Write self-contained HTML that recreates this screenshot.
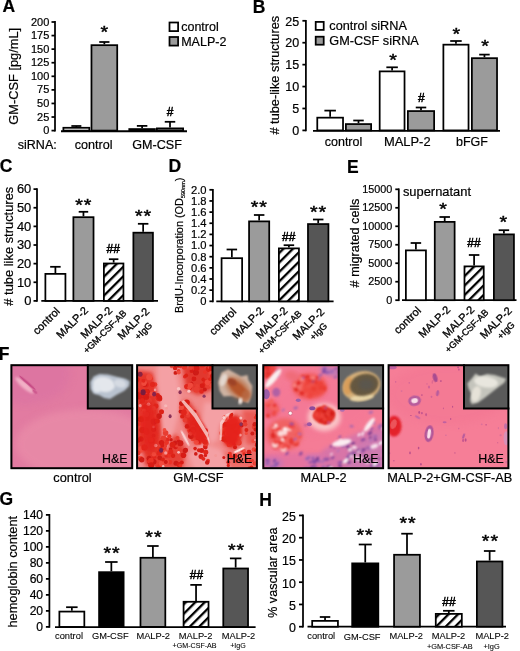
<!DOCTYPE html>
<html lang="en"><head><meta charset="utf-8"><title>Figure</title>
<style>html,body{margin:0;padding:0;background:#fff;overflow:hidden}svg{display:block}text{font-family:'Liberation Sans', Arial, sans-serif;fill:#000;stroke:#000;stroke-width:.2px}.st{stroke-width:.5px}.sm{stroke-width:.08px}.rl{stroke-width:.32px}</style>
</head><body>
<svg width="520" height="651" viewBox="0 0 520 651">
<defs>
<pattern id="hatch" width="6.7" height="6.7" patternUnits="userSpaceOnUse" patternTransform="rotate(-45)">
<rect width="6.7" height="6.7" fill="#fff"/><rect y="0" width="6.7" height="2.3" fill="#000"/>
</pattern>
<filter id="b2" x="-20%" y="-20%" width="140%" height="140%"><feGaussianBlur stdDeviation="2"/></filter>
<filter id="b05" x="-20%" y="-20%" width="140%" height="140%"><feGaussianBlur stdDeviation="0.6"/></filter>
<filter id="b08" x="-20%" y="-20%" width="140%" height="140%"><feGaussianBlur stdDeviation="0.9"/></filter>
<filter id="b1" x="-20%" y="-20%" width="140%" height="140%"><feGaussianBlur stdDeviation="1"/></filter>
<filter id="b3" x="-20%" y="-20%" width="140%" height="140%"><feGaussianBlur stdDeviation="3.5"/></filter>
</defs>
<rect width="520" height="651" fill="#fff"/>
<text x="2.45" y="12.30" font-size="17.5" text-anchor="start" font-weight="bold" >A</text>
<text x="252.80" y="12.50" font-size="17.5" text-anchor="start" font-weight="bold" >B</text>
<text x="-0.25" y="172.10" font-size="17.5" text-anchor="start" font-weight="bold" >C</text>
<text x="168.50" y="172.35" font-size="17.5" text-anchor="start" font-weight="bold" >D</text>
<text x="347.10" y="173.00" font-size="17.5" text-anchor="start" font-weight="bold" >E</text>
<text x="-1.20" y="359.70" font-size="17.5" text-anchor="start" font-weight="bold" >F</text>
<text x="-0.60" y="504.70" font-size="17.5" text-anchor="start" font-weight="bold" >G</text>
<text x="259.30" y="506.00" font-size="17.5" text-anchor="start" font-weight="bold" >H</text>
<line x1="55.00" y1="21.12" x2="55.00" y2="131.47" stroke="#000" stroke-width="1.75"/>
<line x1="51.50" y1="130.60" x2="55.00" y2="130.60" stroke="#000" stroke-width="1.75"/>
<text x="49.30" y="134.16" font-size="11.0" text-anchor="end" font-weight="normal" >0</text>
<line x1="51.50" y1="117.02" x2="55.00" y2="117.02" stroke="#000" stroke-width="1.75"/>
<text x="49.30" y="120.58" font-size="11.0" text-anchor="end" font-weight="normal" >25</text>
<line x1="51.50" y1="103.45" x2="55.00" y2="103.45" stroke="#000" stroke-width="1.75"/>
<text x="49.30" y="107.01" font-size="11.0" text-anchor="end" font-weight="normal" >50</text>
<line x1="51.50" y1="89.88" x2="55.00" y2="89.88" stroke="#000" stroke-width="1.75"/>
<text x="49.30" y="93.43" font-size="11.0" text-anchor="end" font-weight="normal" >75</text>
<line x1="51.50" y1="76.30" x2="55.00" y2="76.30" stroke="#000" stroke-width="1.75"/>
<text x="49.30" y="79.86" font-size="11.0" text-anchor="end" font-weight="normal" >100</text>
<line x1="51.50" y1="62.72" x2="55.00" y2="62.72" stroke="#000" stroke-width="1.75"/>
<text x="49.30" y="66.28" font-size="11.0" text-anchor="end" font-weight="normal" >125</text>
<line x1="51.50" y1="49.15" x2="55.00" y2="49.15" stroke="#000" stroke-width="1.75"/>
<text x="49.30" y="52.71" font-size="11.0" text-anchor="end" font-weight="normal" >150</text>
<line x1="51.50" y1="35.58" x2="55.00" y2="35.58" stroke="#000" stroke-width="1.75"/>
<text x="49.30" y="39.14" font-size="11.0" text-anchor="end" font-weight="normal" >175</text>
<line x1="51.50" y1="22.00" x2="55.00" y2="22.00" stroke="#000" stroke-width="1.75"/>
<text x="49.30" y="25.56" font-size="11.0" text-anchor="end" font-weight="normal" >200</text>
<line x1="61.00" y1="131.30" x2="187.00" y2="131.30" stroke="#000" stroke-width="1.9"/>
<line x1="76.35" y1="126.00" x2="76.35" y2="126.90" stroke="#000" stroke-width="1.75"/>
<line x1="71.35" y1="126.00" x2="81.35" y2="126.00" stroke="#000" stroke-width="1.75"/>
<rect x="63.38" y="127.78" width="25.95" height="2.82" fill="#fff" stroke="#000" stroke-width="1.75"/>
<line x1="104.35" y1="42.00" x2="104.35" y2="44.30" stroke="#000" stroke-width="1.75"/>
<line x1="99.25" y1="42.00" x2="109.45" y2="42.00" stroke="#000" stroke-width="1.75"/>
<rect x="91.47" y="45.17" width="25.75" height="85.42" fill="#9b9b9b" stroke="#000" stroke-width="1.75"/>
<line x1="142.10" y1="125.90" x2="142.10" y2="128.20" stroke="#000" stroke-width="1.75"/>
<line x1="136.85" y1="125.90" x2="147.35" y2="125.90" stroke="#000" stroke-width="1.75"/>
<rect x="129.28" y="129.07" width="25.65" height="1.53" fill="#fff" stroke="#000" stroke-width="1.75"/>
<line x1="170.00" y1="121.80" x2="170.00" y2="127.50" stroke="#000" stroke-width="1.75"/>
<line x1="164.75" y1="121.80" x2="175.25" y2="121.80" stroke="#000" stroke-width="1.75"/>
<rect x="156.88" y="128.38" width="26.25" height="2.22" fill="#9b9b9b" stroke="#000" stroke-width="1.75"/>
<text transform="translate(104.40,38.30) scale(1.03,0.86)" font-size="19" text-anchor="middle" class="st">*</text>
<text x="170.00" y="115.50" font-size="12" text-anchor="middle" font-weight="normal"  class="st">#</text>
<text transform="translate(18.40,76.30) rotate(-90)" font-size="12.8" text-anchor="middle" >GM-CSF [pg/mL]</text>
<text x="17.80" y="148.60" font-size="12.5" text-anchor="start" font-weight="normal" >siRNA:</text>
<text x="93.70" y="148.60" font-size="12.6" text-anchor="middle" font-weight="normal" >control</text>
<text x="157.00" y="148.60" font-size="12.6" text-anchor="middle" font-weight="normal" >GM-CSF</text>
<rect x="169.5" y="22.5" width="8.6" height="8.6" fill="#fff" stroke="#000" stroke-width="1.75"/>
<rect x="169.5" y="37" width="8.6" height="8.6" fill="#9b9b9b" stroke="#000" stroke-width="1.75"/>
<text x="181.20" y="31.00" font-size="12.5" text-anchor="start" font-weight="normal" >control</text>
<text x="181.20" y="45.70" font-size="12.5" text-anchor="start" font-weight="normal" >MALP-2</text>
<line x1="305.90" y1="19.92" x2="305.90" y2="131.28" stroke="#000" stroke-width="1.75"/>
<line x1="302.40" y1="130.40" x2="305.90" y2="130.40" stroke="#000" stroke-width="1.75"/>
<text x="299.20" y="135.10" font-size="12.5" text-anchor="end" font-weight="normal" >0</text>
<line x1="302.40" y1="108.48" x2="305.90" y2="108.48" stroke="#000" stroke-width="1.75"/>
<text x="299.20" y="113.18" font-size="12.5" text-anchor="end" font-weight="normal" >5</text>
<line x1="302.40" y1="86.56" x2="305.90" y2="86.56" stroke="#000" stroke-width="1.75"/>
<text x="299.20" y="91.26" font-size="12.5" text-anchor="end" font-weight="normal" >10</text>
<line x1="302.40" y1="64.64" x2="305.90" y2="64.64" stroke="#000" stroke-width="1.75"/>
<text x="299.20" y="69.34" font-size="12.5" text-anchor="end" font-weight="normal" >15</text>
<line x1="302.40" y1="42.72" x2="305.90" y2="42.72" stroke="#000" stroke-width="1.75"/>
<text x="299.20" y="47.42" font-size="12.5" text-anchor="end" font-weight="normal" >20</text>
<line x1="302.40" y1="20.80" x2="305.90" y2="20.80" stroke="#000" stroke-width="1.75"/>
<text x="299.20" y="25.50" font-size="12.5" text-anchor="end" font-weight="normal" >25</text>
<line x1="313.00" y1="130.80" x2="500.00" y2="130.80" stroke="#000" stroke-width="1.75"/>
<line x1="330.15" y1="110.60" x2="330.15" y2="116.80" stroke="#000" stroke-width="1.75"/>
<line x1="324.40" y1="110.60" x2="335.90" y2="110.60" stroke="#000" stroke-width="1.75"/>
<rect x="317.27" y="117.67" width="25.75" height="12.73" fill="#fff" stroke="#000" stroke-width="1.75"/>
<line x1="358.50" y1="120.50" x2="358.50" y2="123.20" stroke="#000" stroke-width="1.75"/>
<line x1="353.25" y1="120.50" x2="363.75" y2="120.50" stroke="#000" stroke-width="1.75"/>
<rect x="345.88" y="124.08" width="25.25" height="6.33" fill="#9b9b9b" stroke="#000" stroke-width="1.75"/>
<line x1="392.10" y1="67.30" x2="392.10" y2="70.50" stroke="#000" stroke-width="1.75"/>
<line x1="386.35" y1="67.30" x2="397.85" y2="67.30" stroke="#000" stroke-width="1.75"/>
<rect x="379.68" y="71.38" width="24.85" height="59.03" fill="#fff" stroke="#000" stroke-width="1.75"/>
<line x1="421.00" y1="107.50" x2="421.00" y2="110.20" stroke="#000" stroke-width="1.75"/>
<line x1="415.75" y1="107.50" x2="426.25" y2="107.50" stroke="#000" stroke-width="1.75"/>
<rect x="407.88" y="111.08" width="26.25" height="19.33" fill="#9b9b9b" stroke="#000" stroke-width="1.75"/>
<line x1="455.95" y1="41.00" x2="455.95" y2="43.80" stroke="#000" stroke-width="1.75"/>
<line x1="450.20" y1="41.00" x2="461.70" y2="41.00" stroke="#000" stroke-width="1.75"/>
<rect x="443.38" y="44.67" width="25.15" height="85.73" fill="#fff" stroke="#000" stroke-width="1.75"/>
<line x1="484.45" y1="54.60" x2="484.45" y2="57.30" stroke="#000" stroke-width="1.75"/>
<line x1="479.20" y1="54.60" x2="489.70" y2="54.60" stroke="#000" stroke-width="1.75"/>
<rect x="471.88" y="58.17" width="25.15" height="72.23" fill="#9b9b9b" stroke="#000" stroke-width="1.75"/>
<text transform="translate(393.00,65.80) scale(1.03,0.86)" font-size="19" text-anchor="middle" class="st">*</text>
<text x="421.40" y="102.30" font-size="12" text-anchor="middle" font-weight="normal"  class="st">#</text>
<text transform="translate(456.40,39.80) scale(1.03,0.86)" font-size="19" text-anchor="middle" class="st">*</text>
<text transform="translate(485.10,52.10) scale(1.03,0.86)" font-size="19" text-anchor="middle" class="st">*</text>
<text transform="translate(278.50,75.20) rotate(-90)" font-size="12.8" text-anchor="middle" ># tube-like structures</text>
<text x="343.50" y="145.70" font-size="12.5" text-anchor="middle" font-weight="normal" >control</text>
<text x="407.30" y="145.80" font-size="12.9" text-anchor="middle" font-weight="normal" >MALP-2</text>
<text x="472.00" y="145.70" font-size="12.5" text-anchor="middle" font-weight="normal" >bFGF</text>
<rect x="315.7" y="21.9" width="8" height="8" fill="#fff" stroke="#000" stroke-width="1.75"/>
<rect x="315.7" y="36.7" width="8" height="8" fill="#9b9b9b" stroke="#000" stroke-width="1.75"/>
<text x="329.30" y="30.00" font-size="12.7" text-anchor="start" font-weight="normal" >control siRNA</text>
<text x="329.30" y="45.30" font-size="12.7" text-anchor="start" font-weight="normal" >GM-CSF siRNA</text>
<line x1="37.00" y1="188.24" x2="37.00" y2="301.77" stroke="#000" stroke-width="1.75"/>
<line x1="33.50" y1="300.90" x2="37.00" y2="300.90" stroke="#000" stroke-width="1.75"/>
<text x="31.30" y="305.14" font-size="12.9" text-anchor="end" font-weight="normal" >0</text>
<line x1="33.50" y1="282.27" x2="37.00" y2="282.27" stroke="#000" stroke-width="1.75"/>
<text x="31.30" y="286.51" font-size="12.9" text-anchor="end" font-weight="normal" >10</text>
<line x1="33.50" y1="263.64" x2="37.00" y2="263.64" stroke="#000" stroke-width="1.75"/>
<text x="31.30" y="267.88" font-size="12.9" text-anchor="end" font-weight="normal" >20</text>
<line x1="33.50" y1="245.01" x2="37.00" y2="245.01" stroke="#000" stroke-width="1.75"/>
<text x="31.30" y="249.25" font-size="12.9" text-anchor="end" font-weight="normal" >30</text>
<line x1="33.50" y1="226.38" x2="37.00" y2="226.38" stroke="#000" stroke-width="1.75"/>
<text x="31.30" y="230.62" font-size="12.9" text-anchor="end" font-weight="normal" >40</text>
<line x1="33.50" y1="207.75" x2="37.00" y2="207.75" stroke="#000" stroke-width="1.75"/>
<text x="31.30" y="211.99" font-size="12.9" text-anchor="end" font-weight="normal" >50</text>
<line x1="33.50" y1="189.12" x2="37.00" y2="189.12" stroke="#000" stroke-width="1.75"/>
<text x="31.30" y="193.36" font-size="12.9" text-anchor="end" font-weight="normal" >60</text>
<line x1="41.30" y1="300.90" x2="158.00" y2="300.90" stroke="#000" stroke-width="1.75"/>
<line x1="55.40" y1="266.80" x2="55.40" y2="273.00" stroke="#000" stroke-width="1.75"/>
<line x1="50.15" y1="266.80" x2="60.65" y2="266.80" stroke="#000" stroke-width="1.75"/>
<rect x="45.38" y="273.88" width="20.05" height="27.02" fill="#fff" stroke="#000" stroke-width="1.75"/>
<line x1="83.45" y1="211.80" x2="83.45" y2="216.30" stroke="#000" stroke-width="1.75"/>
<line x1="78.70" y1="211.80" x2="88.20" y2="211.80" stroke="#000" stroke-width="1.75"/>
<rect x="73.38" y="217.18" width="20.15" height="83.72" fill="#9b9b9b" stroke="#000" stroke-width="1.75"/>
<line x1="113.65" y1="259.20" x2="113.65" y2="262.60" stroke="#000" stroke-width="1.75"/>
<line x1="108.90" y1="259.20" x2="118.40" y2="259.20" stroke="#000" stroke-width="1.75"/>
<rect x="103.88" y="263.48" width="19.55" height="37.42" fill="url(#hatch)" stroke="#000" stroke-width="1.75"/>
<line x1="143.15" y1="223.80" x2="143.15" y2="231.80" stroke="#000" stroke-width="1.75"/>
<line x1="137.90" y1="223.80" x2="148.40" y2="223.80" stroke="#000" stroke-width="1.75"/>
<rect x="133.38" y="232.68" width="19.55" height="68.22" fill="#565656" stroke="#000" stroke-width="1.75"/>
<text transform="translate(83.70,211.30) scale(1.03,0.86)" font-size="19" text-anchor="middle" class="st" letter-spacing="0.9">**</text>
<text x="113.30" y="252.70" font-size="12" text-anchor="middle" font-weight="normal"  class="st">##</text>
<text transform="translate(143.50,221.80) scale(1.03,0.86)" font-size="19" text-anchor="middle" class="st" letter-spacing="0.9">**</text>
<text transform="translate(12.60,246.20) rotate(-90)" font-size="12.9" text-anchor="middle" ># tube like structures</text>
<text transform="translate(48.90,323.60) rotate(-45)" font-size="11.0" text-anchor="middle" class="rl">control</text>
<text transform="translate(74.80,325.10) rotate(-45)" font-size="11.0" text-anchor="middle" class="rl">MALP-2</text>
<text transform="translate(99.10,325.10) rotate(-45)" text-anchor="middle" class="rl"><tspan x="0" y="0" font-size="11.0">MALP-2</tspan><tspan x="-0.6" y="11.8" font-size="9.2">+GM-CSF-AB</tspan></text>
<text transform="translate(136.00,326.20) rotate(-45)" text-anchor="middle" class="rl"><tspan x="0" y="0" font-size="11.0">MALP-2</tspan><tspan x="1.9" y="11.8" font-size="9.2">+IgG</tspan></text>
<line x1="212.90" y1="188.93" x2="212.90" y2="302.18" stroke="#000" stroke-width="1.75"/>
<line x1="209.40" y1="301.30" x2="212.90" y2="301.30" stroke="#000" stroke-width="1.75"/>
<text x="206.50" y="305.23" font-size="11.2" text-anchor="end" font-weight="normal" >0</text>
<line x1="209.40" y1="290.15" x2="212.90" y2="290.15" stroke="#000" stroke-width="1.75"/>
<text x="206.50" y="294.08" font-size="11.2" text-anchor="end" font-weight="normal" >0.2</text>
<line x1="209.40" y1="279.00" x2="212.90" y2="279.00" stroke="#000" stroke-width="1.75"/>
<text x="206.50" y="282.93" font-size="11.2" text-anchor="end" font-weight="normal" >0.4</text>
<line x1="209.40" y1="267.85" x2="212.90" y2="267.85" stroke="#000" stroke-width="1.75"/>
<text x="206.50" y="271.78" font-size="11.2" text-anchor="end" font-weight="normal" >0.6</text>
<line x1="209.40" y1="256.70" x2="212.90" y2="256.70" stroke="#000" stroke-width="1.75"/>
<text x="206.50" y="260.63" font-size="11.2" text-anchor="end" font-weight="normal" >0.8</text>
<line x1="209.40" y1="245.55" x2="212.90" y2="245.55" stroke="#000" stroke-width="1.75"/>
<text x="206.50" y="249.48" font-size="11.2" text-anchor="end" font-weight="normal" >1.0</text>
<line x1="209.40" y1="234.40" x2="212.90" y2="234.40" stroke="#000" stroke-width="1.75"/>
<text x="206.50" y="238.33" font-size="11.2" text-anchor="end" font-weight="normal" >1.2</text>
<line x1="209.40" y1="223.25" x2="212.90" y2="223.25" stroke="#000" stroke-width="1.75"/>
<text x="206.50" y="227.18" font-size="11.2" text-anchor="end" font-weight="normal" >1.4</text>
<line x1="209.40" y1="212.10" x2="212.90" y2="212.10" stroke="#000" stroke-width="1.75"/>
<text x="206.50" y="216.03" font-size="11.2" text-anchor="end" font-weight="normal" >1.6</text>
<line x1="209.40" y1="200.95" x2="212.90" y2="200.95" stroke="#000" stroke-width="1.75"/>
<text x="206.50" y="204.88" font-size="11.2" text-anchor="end" font-weight="normal" >1.8</text>
<line x1="209.40" y1="189.80" x2="212.90" y2="189.80" stroke="#000" stroke-width="1.75"/>
<text x="206.50" y="193.73" font-size="11.2" text-anchor="end" font-weight="normal" >2.0</text>
<line x1="216.30" y1="301.30" x2="333.60" y2="301.30" stroke="#000" stroke-width="1.75"/>
<line x1="231.85" y1="249.50" x2="231.85" y2="257.30" stroke="#000" stroke-width="1.75"/>
<line x1="226.60" y1="249.50" x2="237.10" y2="249.50" stroke="#000" stroke-width="1.75"/>
<rect x="221.57" y="258.18" width="20.55" height="43.12" fill="#fff" stroke="#000" stroke-width="1.75"/>
<line x1="259.15" y1="215.00" x2="259.15" y2="220.50" stroke="#000" stroke-width="1.75"/>
<line x1="253.90" y1="215.00" x2="264.40" y2="215.00" stroke="#000" stroke-width="1.75"/>
<rect x="249.07" y="221.38" width="20.15" height="79.93" fill="#9b9b9b" stroke="#000" stroke-width="1.75"/>
<line x1="288.90" y1="245.20" x2="288.90" y2="247.50" stroke="#000" stroke-width="1.75"/>
<line x1="283.65" y1="245.20" x2="294.15" y2="245.20" stroke="#000" stroke-width="1.75"/>
<rect x="278.88" y="248.38" width="20.05" height="52.93" fill="url(#hatch)" stroke="#000" stroke-width="1.75"/>
<line x1="318.20" y1="219.50" x2="318.20" y2="223.20" stroke="#000" stroke-width="1.75"/>
<line x1="312.95" y1="219.50" x2="323.45" y2="219.50" stroke="#000" stroke-width="1.75"/>
<rect x="307.98" y="224.07" width="20.45" height="77.23" fill="#565656" stroke="#000" stroke-width="1.75"/>
<text transform="translate(259.20,213.30) scale(1.03,0.86)" font-size="19" text-anchor="middle" class="st" letter-spacing="0.9">**</text>
<text x="288.80" y="241.00" font-size="12" text-anchor="middle" font-weight="normal"  class="st">##</text>
<text transform="translate(318.50,218.30) scale(1.03,0.86)" font-size="19" text-anchor="middle" class="st" letter-spacing="0.9">**</text>
<text transform="translate(183.4,245.3) rotate(-90)" text-anchor="middle" font-size="10.9">BrdU-Incorporation (OD<tspan font-size="5.5" dy="2">590nm</tspan><tspan dy="-2">)</tspan></text>
<text transform="translate(225.40,324.00) rotate(-45)" font-size="11.0" text-anchor="middle" class="rl">control</text>
<text transform="translate(250.50,325.50) rotate(-45)" font-size="11.0" text-anchor="middle" class="rl">MALP-2</text>
<text transform="translate(274.30,325.50) rotate(-45)" text-anchor="middle" class="rl"><tspan x="0" y="0" font-size="11.0">MALP-2</tspan><tspan x="-0.6" y="11.8" font-size="9.2">+GM-CSF-AB</tspan></text>
<text transform="translate(311.00,326.60) rotate(-45)" text-anchor="middle" class="rl"><tspan x="0" y="0" font-size="11.0">MALP-2</tspan><tspan x="1.9" y="11.8" font-size="9.2">+IgG</tspan></text>
<line x1="398.80" y1="188.44" x2="398.80" y2="301.07" stroke="#000" stroke-width="1.75"/>
<line x1="395.30" y1="300.20" x2="398.80" y2="300.20" stroke="#000" stroke-width="1.75"/>
<text x="392.30" y="303.89" font-size="10.8" text-anchor="end" font-weight="normal" >0</text>
<line x1="395.30" y1="281.72" x2="398.80" y2="281.72" stroke="#000" stroke-width="1.75"/>
<text x="392.30" y="285.41" font-size="10.8" text-anchor="end" font-weight="normal" >2500</text>
<line x1="395.30" y1="263.24" x2="398.80" y2="263.24" stroke="#000" stroke-width="1.75"/>
<text x="392.30" y="266.93" font-size="10.8" text-anchor="end" font-weight="normal" >5000</text>
<line x1="395.30" y1="244.76" x2="398.80" y2="244.76" stroke="#000" stroke-width="1.75"/>
<text x="392.30" y="248.45" font-size="10.8" text-anchor="end" font-weight="normal" >7500</text>
<line x1="395.30" y1="226.28" x2="398.80" y2="226.28" stroke="#000" stroke-width="1.75"/>
<text x="392.30" y="229.97" font-size="10.8" text-anchor="end" font-weight="normal" >10000</text>
<line x1="395.30" y1="207.80" x2="398.80" y2="207.80" stroke="#000" stroke-width="1.75"/>
<text x="392.30" y="211.49" font-size="10.8" text-anchor="end" font-weight="normal" >12500</text>
<line x1="395.30" y1="189.32" x2="398.80" y2="189.32" stroke="#000" stroke-width="1.75"/>
<text x="392.30" y="193.01" font-size="10.8" text-anchor="end" font-weight="normal" >15000</text>
<line x1="402.00" y1="300.20" x2="516.50" y2="300.20" stroke="#000" stroke-width="1.75"/>
<line x1="415.90" y1="243.00" x2="415.90" y2="249.50" stroke="#000" stroke-width="1.75"/>
<line x1="410.65" y1="243.00" x2="421.15" y2="243.00" stroke="#000" stroke-width="1.75"/>
<rect x="405.88" y="250.38" width="20.05" height="49.82" fill="#fff" stroke="#000" stroke-width="1.75"/>
<line x1="444.70" y1="217.00" x2="444.70" y2="221.00" stroke="#000" stroke-width="1.75"/>
<line x1="439.45" y1="217.00" x2="449.95" y2="217.00" stroke="#000" stroke-width="1.75"/>
<rect x="434.77" y="221.88" width="19.85" height="78.32" fill="#9b9b9b" stroke="#000" stroke-width="1.75"/>
<line x1="474.10" y1="255.00" x2="474.10" y2="265.50" stroke="#000" stroke-width="1.75"/>
<line x1="468.85" y1="255.00" x2="479.35" y2="255.00" stroke="#000" stroke-width="1.75"/>
<rect x="464.48" y="266.38" width="19.25" height="33.82" fill="url(#hatch)" stroke="#000" stroke-width="1.75"/>
<line x1="503.90" y1="230.20" x2="503.90" y2="233.50" stroke="#000" stroke-width="1.75"/>
<line x1="498.65" y1="230.20" x2="509.15" y2="230.20" stroke="#000" stroke-width="1.75"/>
<rect x="493.88" y="234.38" width="20.05" height="65.82" fill="#565656" stroke="#000" stroke-width="1.75"/>
<text transform="translate(443.00,215.00) scale(1.03,0.86)" font-size="19" text-anchor="middle" class="st">*</text>
<text x="474.00" y="246.50" font-size="12" text-anchor="middle" font-weight="normal"  class="st">##</text>
<text transform="translate(503.30,227.60) scale(1.03,0.86)" font-size="19" text-anchor="middle" class="st">*</text>
<text x="402.90" y="195.70" font-size="12.9" text-anchor="start" font-weight="normal" >supernatant</text>
<text transform="translate(358.60,243.00) rotate(-90)" font-size="12.7" text-anchor="middle" ># migrated cells</text>
<text transform="translate(410.00,322.90) rotate(-45)" font-size="11.0" text-anchor="middle" class="rl">control</text>
<text transform="translate(437.00,324.40) rotate(-45)" font-size="11.0" text-anchor="middle" class="rl">MALP-2</text>
<text transform="translate(461.00,324.40) rotate(-45)" text-anchor="middle" class="rl"><tspan x="0" y="0" font-size="11.0">MALP-2</tspan><tspan x="-0.6" y="11.8" font-size="9.2">+GM-CSF-AB</tspan></text>
<text transform="translate(498.50,325.50) rotate(-45)" text-anchor="middle" class="rl"><tspan x="0" y="0" font-size="11.0">MALP-2</tspan><tspan x="1.9" y="11.8" font-size="9.2">+IgG</tspan></text>
<clipPath id="c1"><rect x="11.4" y="365.2" width="120.79999999999998" height="103.0"/></clipPath>
<clipPath id="c1i"><rect x="87.79999999999998" y="365.2" width="44.4" height="43.19999999999999"/></clipPath>
<rect x="10.9" y="364.7" width="121.79999999999998" height="104.0" fill="#e27ba1"/>
<g clip-path="url(#c1)"><g transform="translate(10.4,364.2)">
<ellipse cx="15.0" cy="10.0" rx="45" ry="30" fill="#dc74a2" filter="url(#b3)" opacity="0.8"/>
<ellipse cx="75.0" cy="80.0" rx="70" ry="35" fill="#e98ca8" filter="url(#b3)" opacity="0.8"/>
<ellipse cx="14.0" cy="21.0" rx="12" ry="3.0" fill="#f2b0c6" filter="url(#b1)" transform="rotate(41 14.0 21.0)"/>
<ellipse cx="17.0" cy="18.6" rx="11" ry="1.2" fill="#c03c7c" filter="url(#b05)" opacity="0.85" transform="rotate(41 17.0 18.6)"/>
<ellipse cx="24.5" cy="27.5" rx="3" ry="1.2" fill="#c85088" filter="url(#b05)" opacity="0.8" transform="rotate(41 24.5 27.5)"/>
</g></g>
<rect x="87.79999999999998" y="365.2" width="44.4" height="43.19999999999999" fill="#585858"/>
<g clip-path="url(#c1i)">
<polygon points="90.2,382.2 93.6,376.4 99.4,374.0 108.0,374.5 115.7,376.4 125.3,378.8 129.7,381.2 129.2,386.0 124.4,390.8 116.7,394.7 110.0,399.0 104.2,398.0 99.4,395.2 93.6,393.7 90.7,388.9" fill="#b9c2cf" filter="url(#b1)"/>
<ellipse cx="104.0" cy="384.5" rx="11" ry="7.5" fill="#e4e7ec" filter="url(#b1)" transform="rotate(10 104 384.5)"/>
<ellipse cx="120.0" cy="383.5" rx="6.5" ry="4" fill="#d5dae2" filter="url(#b1)" transform="rotate(15 120 383.5)"/>
<ellipse cx="97.0" cy="388.0" rx="4" ry="4.5" fill="#e2e6ec" filter="url(#b1)"/>
</g>
<path d="M87.79999999999998,364.2 V408.4 H133.2" fill="none" stroke="#000" stroke-width="2.0"/>
<rect x="11.4" y="365.2" width="120.79999999999998" height="103.0" fill="none" stroke="#000" stroke-width="2.0"/>
<text x="127.60" y="462.70" font-size="12.4" text-anchor="end" font-weight="normal" fill="#1a0a10">H&amp;E</text>
<text x="72.50" y="482.40" font-size="12.75" text-anchor="middle" font-weight="normal" >control</text>
<clipPath id="c2"><rect x="137.1" y="365.2" width="119.79999999999998" height="103.0"/></clipPath>
<clipPath id="c2i"><rect x="212.49999999999997" y="365.2" width="44.4" height="43.19999999999999"/></clipPath>
<rect x="136.6" y="364.7" width="120.79999999999998" height="104.0" fill="#f08a8a"/>
<g clip-path="url(#c2)"><g transform="translate(136.1,364.2)">
<polygon points="0.0,6.0 16.0,8.0 23.0,30.0 28.0,55.0 31.0,75.0 25.0,102.0 2.0,102.0 0.0,80.0" fill="#e4342c" filter="url(#b2)"/>
<polygon points="46.0,3.0 60.0,0.0 77.0,2.0 77.0,25.0 62.0,31.0 50.0,25.0" fill="#e2382e" filter="url(#b2)"/>
<polygon points="42.0,40.0 52.0,36.0 62.0,50.0 72.0,70.0 70.0,83.0 60.0,81.0 50.0,64.0" fill="#e22c24" filter="url(#b2)"/>
<polygon points="88.0,54.0 97.0,49.0 105.0,54.0 107.0,68.0 104.0,80.0 96.0,85.0 88.0,80.0 85.0,68.0" fill="#e2281e" filter="url(#b2)"/>
<polygon points="24.0,72.0 40.0,70.0 50.0,84.0 47.0,104.0 22.0,104.0" fill="#e64238" filter="url(#b2)"/>
<polygon points="58.0,84.0 74.0,86.0 72.0,100.0 60.0,98.0" fill="#e84c44" filter="url(#b2)"/>
<polygon points="106.0,46.0 122.0,46.0 122.0,82.0 110.0,80.0 108.0,62.0" fill="#ea5a54" filter="url(#b2)"/>
<polygon points="84.0,88.0 122.0,84.0 122.0,104.0 92.0,104.0" fill="#ee6a66" filter="url(#b2)"/>
<polygon points="21.0,-3.0 33.0,-3.0 40.0,8.0 43.0,22.0 44.0,38.0 42.0,52.0 37.0,70.0 31.0,86.0 27.0,88.0 25.0,60.0 23.0,36.0 21.0,15.0" fill="#f4a0a4" filter="url(#b2)"/>
<polygon points="68.0,38.0 100.0,40.0 97.0,52.0 84.0,60.0 81.0,76.0 74.0,80.0 66.0,58.0" fill="#f4a0a4" filter="url(#b2)"/>
<polygon points="52.0,90.0 66.0,78.0 86.0,86.0 95.0,107.0 58.0,107.0" fill="#f4a0a4" filter="url(#b2)"/>
<polygon points="-3.0,86.0 7.0,88.0 10.0,107.0 -3.0,107.0" fill="#f29094" filter="url(#b2)"/>
<g filter="url(#b05)">
<circle cx="10.0" cy="20.5" r="2.7" fill="#e2261e"/>
<circle cx="18.1" cy="93.3" r="2.1" fill="#e2261e"/>
<circle cx="13.4" cy="12.7" r="1.9" fill="#e83c30"/>
<circle cx="1.8" cy="60.3" r="3.1" fill="#f04a3c"/>
<circle cx="19.5" cy="97.0" r="2.6" fill="#e83c30"/>
<circle cx="1.5" cy="27.2" r="2.6" fill="#d81c14"/>
<circle cx="9.0" cy="19.8" r="2.0" fill="#ea3228"/>
<circle cx="17.4" cy="71.5" r="1.9" fill="#cf1a16"/>
<circle cx="19.8" cy="41.8" r="2.6" fill="#e2261e"/>
<circle cx="17.5" cy="65.4" r="2.5" fill="#cf1a16"/>
<circle cx="13.3" cy="36.2" r="2.6" fill="#e83c30"/>
<circle cx="11.2" cy="29.8" r="2.1" fill="#dc2018"/>
<circle cx="7.6" cy="61.1" r="2.5" fill="#ea3228"/>
<circle cx="22.6" cy="33.6" r="3.2" fill="#e2261e"/>
<circle cx="15.9" cy="21.8" r="2.3" fill="#e83c30"/>
<circle cx="13.1" cy="98.4" r="1.9" fill="#cf1a16"/>
<circle cx="17.8" cy="90.0" r="2.2" fill="#f04a3c"/>
<circle cx="10.9" cy="53.7" r="2.9" fill="#e2261e"/>
<circle cx="26.0" cy="96.7" r="2.5" fill="#f04a3c"/>
<circle cx="2.0" cy="76.2" r="2.2" fill="#cf1a16"/>
<circle cx="8.8" cy="43.0" r="2.7" fill="#e2261e"/>
<circle cx="18.9" cy="53.4" r="2.1" fill="#ea3228"/>
<circle cx="4.0" cy="29.8" r="2.3" fill="#dc2018"/>
<circle cx="15.4" cy="22.0" r="2.4" fill="#ea3228"/>
<circle cx="27.4" cy="84.7" r="3.0" fill="#ea3228"/>
<circle cx="21.9" cy="100.7" r="2.8" fill="#e83c30"/>
<circle cx="5.5" cy="28.3" r="2.1" fill="#e83c30"/>
<circle cx="8.7" cy="20.0" r="2.5" fill="#cf1a16"/>
<circle cx="17.6" cy="97.5" r="2.8" fill="#cf1a16"/>
<circle cx="29.5" cy="68.9" r="2.8" fill="#e83c30"/>
<circle cx="27.9" cy="80.9" r="3.0" fill="#dc2018"/>
<circle cx="17.3" cy="44.2" r="2.4" fill="#e83c30"/>
<circle cx="2.1" cy="26.0" r="2.0" fill="#ea3228"/>
<circle cx="17.6" cy="57.5" r="3.1" fill="#cf1a16"/>
<circle cx="19.0" cy="20.3" r="2.2" fill="#ea3228"/>
<circle cx="18.7" cy="51.5" r="2.0" fill="#e83c30"/>
<circle cx="15.0" cy="14.2" r="1.9" fill="#ea3228"/>
<circle cx="23.0" cy="51.9" r="2.8" fill="#cf1a16"/>
<circle cx="16.4" cy="20.1" r="2.6" fill="#e2261e"/>
<circle cx="23.5" cy="34.6" r="2.7" fill="#e2261e"/>
<circle cx="21.6" cy="31.1" r="2.3" fill="#d81c14"/>
<circle cx="11.0" cy="27.4" r="2.6" fill="#cf1a16"/>
<circle cx="10.2" cy="27.4" r="2.9" fill="#dc2018"/>
<circle cx="26.4" cy="83.4" r="2.9" fill="#f04a3c"/>
<circle cx="15.3" cy="76.2" r="3.2" fill="#dc2018"/>
<circle cx="8.7" cy="30.9" r="2.8" fill="#ea3228"/>
<circle cx="13.9" cy="96.0" r="3.2" fill="#ea3228"/>
<circle cx="2.5" cy="15.8" r="2.5" fill="#ea3228"/>
<circle cx="6.3" cy="65.9" r="3.1" fill="#dc2018"/>
<circle cx="10.7" cy="67.7" r="3.0" fill="#e2261e"/>
<circle cx="28.2" cy="81.1" r="2.9" fill="#e83c30"/>
<circle cx="29.3" cy="75.3" r="2.4" fill="#f04a3c"/>
<circle cx="29.4" cy="75.6" r="2.0" fill="#d81c14"/>
<circle cx="0.9" cy="62.7" r="2.5" fill="#f04a3c"/>
<circle cx="4.5" cy="85.3" r="3.2" fill="#f04a3c"/>
<circle cx="24.8" cy="75.7" r="1.9" fill="#f04a3c"/>
<circle cx="27.0" cy="85.3" r="2.1" fill="#ea3228"/>
<circle cx="6.6" cy="54.1" r="2.9" fill="#ea3228"/>
<circle cx="8.0" cy="46.2" r="2.0" fill="#f04a3c"/>
<circle cx="11.0" cy="50.0" r="2.6" fill="#cf1a16"/>
<circle cx="13.0" cy="94.1" r="2.5" fill="#cf1a16"/>
<circle cx="4.7" cy="55.0" r="3.0" fill="#dc2018"/>
<circle cx="14.7" cy="75.6" r="2.6" fill="#ea3228"/>
<circle cx="21.2" cy="56.9" r="2.5" fill="#dc2018"/>
<circle cx="3.3" cy="59.8" r="2.1" fill="#ea3228"/>
<circle cx="1.3" cy="15.4" r="2.4" fill="#e2261e"/>
<circle cx="23.6" cy="93.6" r="2.4" fill="#cf1a16"/>
<circle cx="6.2" cy="32.6" r="2.5" fill="#dc2018"/>
<circle cx="14.8" cy="96.4" r="2.8" fill="#ea3228"/>
<circle cx="6.3" cy="49.0" r="2.4" fill="#e83c30"/>
<circle cx="13.7" cy="13.0" r="2.1" fill="#e2261e"/>
<circle cx="6.6" cy="35.1" r="2.0" fill="#dc2018"/>
<circle cx="4.8" cy="74.7" r="2.7" fill="#d81c14"/>
<circle cx="7.8" cy="19.2" r="2.5" fill="#f04a3c"/>
<circle cx="15.1" cy="101.0" r="3.0" fill="#d81c14"/>
<circle cx="21.9" cy="101.4" r="2.4" fill="#e83c30"/>
<circle cx="6.1" cy="36.6" r="2.8" fill="#e2261e"/>
<circle cx="10.5" cy="50.0" r="2.8" fill="#e83c30"/>
<circle cx="10.3" cy="65.9" r="2.5" fill="#e2261e"/>
<circle cx="3.5" cy="94.2" r="2.1" fill="#e2261e"/>
<circle cx="2.6" cy="32.1" r="3.1" fill="#d81c14"/>
<circle cx="8.4" cy="18.4" r="2.4" fill="#f04a3c"/>
<circle cx="4.6" cy="94.2" r="2.6" fill="#f04a3c"/>
<circle cx="10.1" cy="32.8" r="2.9" fill="#d81c14"/>
<circle cx="13.2" cy="13.0" r="3.1" fill="#f04a3c"/>
<circle cx="2.7" cy="31.0" r="2.7" fill="#d81c14"/>
<circle cx="2.1" cy="88.8" r="2.4" fill="#ea3228"/>
<circle cx="28.4" cy="65.7" r="1.9" fill="#f04a3c"/>
<circle cx="7.4" cy="16.5" r="2.0" fill="#e2261e"/>
<circle cx="5.6" cy="95.5" r="2.7" fill="#cf1a16"/>
<circle cx="23.5" cy="33.8" r="2.5" fill="#d81c14"/>
<circle cx="8.4" cy="83.2" r="3.2" fill="#e2261e"/>
<circle cx="0.5" cy="76.4" r="2.6" fill="#d81c14"/>
<circle cx="15.9" cy="29.6" r="2.4" fill="#f04a3c"/>
<circle cx="25.4" cy="47.5" r="2.5" fill="#dc2018"/>
<circle cx="55.5" cy="6.7" r="2.1" fill="#d81c14"/>
<circle cx="71.8" cy="21.9" r="2.6" fill="#e83c30"/>
<circle cx="65.4" cy="27.3" r="2.3" fill="#e2261e"/>
<circle cx="73.0" cy="20.8" r="2.1" fill="#d81c14"/>
<circle cx="67.5" cy="1.4" r="2.0" fill="#ea3228"/>
<circle cx="59.8" cy="8.2" r="3.0" fill="#cf1a16"/>
<circle cx="56.0" cy="1.1" r="2.9" fill="#d81c14"/>
<circle cx="57.8" cy="14.7" r="2.4" fill="#d81c14"/>
<circle cx="53.7" cy="24.1" r="1.9" fill="#dc2018"/>
<circle cx="48.8" cy="12.4" r="1.9" fill="#e2261e"/>
<circle cx="55.3" cy="19.5" r="1.9" fill="#cf1a16"/>
<circle cx="72.5" cy="4.8" r="2.9" fill="#dc2018"/>
<circle cx="73.3" cy="12.1" r="2.2" fill="#e83c30"/>
<circle cx="50.6" cy="22.4" r="2.6" fill="#e2261e"/>
<circle cx="71.6" cy="22.2" r="2.4" fill="#e83c30"/>
<circle cx="68.7" cy="25.2" r="2.0" fill="#cf1a16"/>
<circle cx="69.3" cy="17.6" r="2.8" fill="#e2261e"/>
<circle cx="71.6" cy="18.1" r="2.9" fill="#f04a3c"/>
<circle cx="75.6" cy="19.9" r="1.9" fill="#e2261e"/>
<circle cx="50.1" cy="11.2" r="1.9" fill="#dc2018"/>
<circle cx="60.0" cy="1.6" r="1.8" fill="#cf1a16"/>
<circle cx="67.1" cy="15.2" r="1.8" fill="#dc2018"/>
<circle cx="73.8" cy="2.9" r="2.4" fill="#f04a3c"/>
<circle cx="68.8" cy="7.8" r="1.9" fill="#ea3228"/>
<circle cx="53.3" cy="23.4" r="2.1" fill="#f04a3c"/>
<circle cx="76.2" cy="15.3" r="2.3" fill="#e83c30"/>
<circle cx="74.2" cy="8.9" r="1.9" fill="#f04a3c"/>
<circle cx="65.9" cy="2.4" r="2.0" fill="#ea3228"/>
<circle cx="66.2" cy="21.5" r="2.5" fill="#d81c14"/>
<circle cx="54.3" cy="20.8" r="2.6" fill="#f04a3c"/>
<circle cx="61.2" cy="22.0" r="2.1" fill="#e83c30"/>
<circle cx="60.5" cy="3.7" r="2.9" fill="#d81c14"/>
<circle cx="55.7" cy="2.7" r="2.4" fill="#ea3228"/>
<circle cx="60.2" cy="25.4" r="3.0" fill="#e83c30"/>
<circle cx="76.8" cy="12.0" r="2.9" fill="#d81c14"/>
<circle cx="48.3" cy="2.8" r="2.7" fill="#ea3228"/>
<circle cx="75.5" cy="4.1" r="2.8" fill="#cf1a16"/>
<circle cx="54.7" cy="3.5" r="2.2" fill="#e83c30"/>
<circle cx="73.8" cy="15.1" r="1.8" fill="#e2261e"/>
<circle cx="75.4" cy="21.1" r="2.3" fill="#f04a3c"/>
<circle cx="46.2" cy="52.2" r="2.2" fill="#dc2018"/>
<circle cx="51.9" cy="51.3" r="2.3" fill="#e83c30"/>
<circle cx="63.4" cy="78.4" r="2.2" fill="#ea3228"/>
<circle cx="69.8" cy="71.5" r="3.0" fill="#ea3228"/>
<circle cx="49.5" cy="48.5" r="2.5" fill="#d81c14"/>
<circle cx="65.2" cy="72.9" r="2.4" fill="#e2261e"/>
<circle cx="66.4" cy="65.7" r="3.1" fill="#cf1a16"/>
<circle cx="58.5" cy="69.8" r="1.9" fill="#f04a3c"/>
<circle cx="54.3" cy="64.9" r="2.0" fill="#dc2018"/>
<circle cx="50.6" cy="38.3" r="3.1" fill="#d81c14"/>
<circle cx="50.5" cy="48.0" r="2.8" fill="#f04a3c"/>
<circle cx="51.0" cy="62.2" r="2.4" fill="#d81c14"/>
<circle cx="57.0" cy="74.2" r="2.6" fill="#e83c30"/>
<circle cx="69.2" cy="82.8" r="2.4" fill="#d81c14"/>
<circle cx="58.4" cy="47.5" r="2.0" fill="#cf1a16"/>
<circle cx="44.7" cy="47.2" r="2.2" fill="#cf1a16"/>
<circle cx="56.9" cy="63.0" r="2.3" fill="#f04a3c"/>
<circle cx="57.1" cy="65.6" r="3.0" fill="#d81c14"/>
<circle cx="53.5" cy="66.4" r="2.4" fill="#ea3228"/>
<circle cx="67.5" cy="77.0" r="1.8" fill="#e2261e"/>
<circle cx="54.8" cy="71.9" r="2.9" fill="#cf1a16"/>
<circle cx="69.9" cy="79.6" r="2.5" fill="#e83c30"/>
<circle cx="45.3" cy="43.3" r="2.5" fill="#f04a3c"/>
<circle cx="63.0" cy="75.8" r="3.1" fill="#e2261e"/>
<circle cx="69.6" cy="66.3" r="2.2" fill="#d81c14"/>
<circle cx="60.8" cy="60.8" r="2.4" fill="#dc2018"/>
<circle cx="45.4" cy="39.3" r="2.5" fill="#cf1a16"/>
<circle cx="47.8" cy="48.3" r="2.9" fill="#e2261e"/>
<circle cx="61.3" cy="77.5" r="2.5" fill="#d81c14"/>
<circle cx="54.4" cy="66.5" r="1.9" fill="#d81c14"/>
<circle cx="56.9" cy="67.7" r="2.4" fill="#ea3228"/>
<circle cx="48.8" cy="55.9" r="2.3" fill="#e83c30"/>
<circle cx="54.6" cy="68.1" r="2.1" fill="#dc2018"/>
<circle cx="60.3" cy="78.1" r="2.5" fill="#f04a3c"/>
<circle cx="54.5" cy="69.4" r="2.1" fill="#e83c30"/>
<circle cx="68.9" cy="77.5" r="2.8" fill="#e2261e"/>
<circle cx="105.5" cy="60.9" r="2.3" fill="#cf1a16"/>
<circle cx="99.6" cy="62.6" r="2.6" fill="#ea3228"/>
<circle cx="94.7" cy="52.9" r="2.1" fill="#e2261e"/>
<circle cx="89.6" cy="61.8" r="3.3" fill="#dc2018"/>
<circle cx="100.5" cy="56.0" r="2.9" fill="#e83c30"/>
<circle cx="89.2" cy="62.1" r="3.4" fill="#e2261e"/>
<circle cx="98.9" cy="57.9" r="3.0" fill="#e83c30"/>
<circle cx="90.7" cy="75.9" r="3.4" fill="#ea3228"/>
<circle cx="93.0" cy="61.1" r="3.5" fill="#e2261e"/>
<circle cx="90.8" cy="74.8" r="2.5" fill="#ea3228"/>
<circle cx="91.5" cy="75.0" r="3.0" fill="#dc2018"/>
<circle cx="98.9" cy="83.0" r="2.0" fill="#d81c14"/>
<circle cx="87.4" cy="74.8" r="2.7" fill="#dc2018"/>
<circle cx="93.5" cy="58.0" r="2.7" fill="#e83c30"/>
<circle cx="87.9" cy="66.9" r="2.0" fill="#f04a3c"/>
<circle cx="91.7" cy="73.9" r="2.2" fill="#d81c14"/>
<circle cx="92.2" cy="60.5" r="2.6" fill="#dc2018"/>
<circle cx="98.1" cy="67.4" r="2.6" fill="#d81c14"/>
<circle cx="85.7" cy="68.9" r="2.5" fill="#e83c30"/>
<circle cx="87.1" cy="66.9" r="3.1" fill="#e83c30"/>
<circle cx="88.8" cy="53.8" r="2.7" fill="#f04a3c"/>
<circle cx="90.2" cy="68.4" r="3.2" fill="#dc2018"/>
<circle cx="91.5" cy="69.4" r="2.6" fill="#f04a3c"/>
<circle cx="90.7" cy="64.8" r="2.3" fill="#d81c14"/>
<circle cx="97.7" cy="60.7" r="2.6" fill="#d81c14"/>
<circle cx="96.2" cy="57.3" r="3.3" fill="#f04a3c"/>
<circle cx="95.2" cy="50.3" r="2.0" fill="#dc2018"/>
<circle cx="90.1" cy="65.1" r="2.6" fill="#ea3228"/>
<circle cx="98.2" cy="78.8" r="2.3" fill="#e2261e"/>
<circle cx="93.2" cy="80.2" r="2.7" fill="#ea3228"/>
<circle cx="102.0" cy="72.9" r="2.0" fill="#f04a3c"/>
<circle cx="98.1" cy="71.3" r="2.3" fill="#ea3228"/>
<circle cx="102.9" cy="78.5" r="2.7" fill="#ea3228"/>
<circle cx="89.1" cy="60.2" r="2.3" fill="#dc2018"/>
<circle cx="95.9" cy="66.4" r="2.7" fill="#dc2018"/>
<circle cx="93.7" cy="68.8" r="3.0" fill="#e2261e"/>
<circle cx="99.4" cy="63.3" r="2.4" fill="#ea3228"/>
<circle cx="99.7" cy="64.0" r="2.1" fill="#f04a3c"/>
<circle cx="97.5" cy="61.9" r="2.7" fill="#dc2018"/>
<circle cx="101.9" cy="77.9" r="3.0" fill="#e83c30"/>
<circle cx="42.4" cy="76.9" r="1.8" fill="#d81c14"/>
<circle cx="33.9" cy="97.9" r="2.3" fill="#ea3228"/>
<circle cx="34.9" cy="75.5" r="1.8" fill="#cf1a16"/>
<circle cx="26.0" cy="97.4" r="2.3" fill="#cf1a16"/>
<circle cx="39.4" cy="82.6" r="2.4" fill="#d81c14"/>
<circle cx="31.7" cy="75.5" r="2.0" fill="#e2261e"/>
<circle cx="25.0" cy="86.7" r="2.8" fill="#dc2018"/>
<circle cx="27.5" cy="74.3" r="2.9" fill="#e83c30"/>
<circle cx="30.8" cy="90.7" r="2.6" fill="#e2261e"/>
<circle cx="47.3" cy="91.1" r="2.8" fill="#d81c14"/>
<circle cx="39.9" cy="99.1" r="2.5" fill="#cf1a16"/>
<circle cx="45.7" cy="98.2" r="2.0" fill="#d81c14"/>
<circle cx="23.2" cy="101.9" r="2.0" fill="#ea3228"/>
<circle cx="25.4" cy="78.4" r="2.7" fill="#d81c14"/>
<circle cx="23.2" cy="89.1" r="2.7" fill="#e2261e"/>
<circle cx="40.7" cy="81.0" r="2.3" fill="#e83c30"/>
<circle cx="37.4" cy="91.3" r="2.2" fill="#e83c30"/>
<circle cx="30.6" cy="78.5" r="2.3" fill="#ea3228"/>
<circle cx="34.5" cy="84.9" r="1.8" fill="#cf1a16"/>
<circle cx="49.6" cy="85.8" r="2.3" fill="#cf1a16"/>
<circle cx="43.8" cy="85.6" r="2.0" fill="#e83c30"/>
<circle cx="33.2" cy="72.3" r="2.2" fill="#ea3228"/>
<circle cx="24.6" cy="85.0" r="2.4" fill="#e2261e"/>
<circle cx="43.1" cy="100.4" r="2.6" fill="#dc2018"/>
<circle cx="25.8" cy="99.1" r="3.0" fill="#f04a3c"/>
<circle cx="41.4" cy="73.7" r="2.0" fill="#e83c30"/>
<circle cx="30.1" cy="97.6" r="2.8" fill="#f04a3c"/>
<circle cx="44.1" cy="101.6" r="1.9" fill="#ea3228"/>
<circle cx="39.1" cy="78.6" r="2.2" fill="#cf1a16"/>
<circle cx="29.7" cy="97.7" r="2.0" fill="#cf1a16"/>
<circle cx="49.0" cy="86.3" r="2.5" fill="#cf1a16"/>
<circle cx="36.2" cy="80.8" r="1.8" fill="#d81c14"/>
<circle cx="33.3" cy="91.6" r="2.1" fill="#ea3228"/>
<circle cx="36.9" cy="91.6" r="2.2" fill="#dc2018"/>
<circle cx="34.7" cy="87.7" r="2.6" fill="#e2261e"/>
<circle cx="29.1" cy="88.2" r="2.8" fill="#f04a3c"/>
<circle cx="44.3" cy="79.0" r="3.0" fill="#cf1a16"/>
<circle cx="26.1" cy="81.2" r="1.9" fill="#d81c14"/>
<circle cx="26.9" cy="95.3" r="1.9" fill="#dc2018"/>
<circle cx="36.5" cy="80.5" r="3.0" fill="#dc2018"/>
<circle cx="67.4" cy="94.6" r="1.9" fill="#e2261e"/>
<circle cx="70.0" cy="87.5" r="1.9" fill="#f04a3c"/>
<circle cx="64.9" cy="92.2" r="2.5" fill="#d81c14"/>
<circle cx="65.8" cy="93.8" r="1.6" fill="#e2261e"/>
<circle cx="59.7" cy="89.7" r="1.8" fill="#cf1a16"/>
<circle cx="62.8" cy="86.1" r="2.0" fill="#dc2018"/>
<circle cx="65.6" cy="86.2" r="2.5" fill="#d81c14"/>
<circle cx="69.3" cy="91.2" r="1.7" fill="#d81c14"/>
<circle cx="71.9" cy="96.5" r="2.0" fill="#ea3228"/>
<circle cx="71.1" cy="98.3" r="2.2" fill="#cf1a16"/>
<circle cx="69.7" cy="88.0" r="2.5" fill="#e2261e"/>
<circle cx="59.0" cy="84.4" r="1.8" fill="#d81c14"/>
<circle cx="121.1" cy="51.1" r="1.8" fill="#cf1a16"/>
<circle cx="116.3" cy="69.3" r="2.0" fill="#cf1a16"/>
<circle cx="108.8" cy="57.1" r="1.9" fill="#e2261e"/>
<circle cx="121.9" cy="72.1" r="2.1" fill="#cf1a16"/>
<circle cx="117.9" cy="62.7" r="2.3" fill="#e83c30"/>
<circle cx="110.2" cy="69.2" r="1.7" fill="#f04a3c"/>
<circle cx="120.8" cy="79.9" r="1.9" fill="#e2261e"/>
<circle cx="110.3" cy="65.9" r="2.0" fill="#dc2018"/>
<circle cx="120.7" cy="81.0" r="1.9" fill="#d81c14"/>
<circle cx="119.5" cy="53.3" r="1.8" fill="#ea3228"/>
<circle cx="109.1" cy="60.0" r="2.2" fill="#e83c30"/>
<circle cx="120.5" cy="68.7" r="2.3" fill="#f04a3c"/>
<circle cx="119.5" cy="65.3" r="2.1" fill="#cf1a16"/>
<circle cx="117.2" cy="76.9" r="2.0" fill="#f04a3c"/>
<circle cx="118.6" cy="60.1" r="2.2" fill="#cf1a16"/>
<circle cx="120.6" cy="51.2" r="1.6" fill="#e2261e"/>
<circle cx="107.6" cy="87.2" r="2.4" fill="#f04a3c"/>
<circle cx="110.3" cy="96.7" r="2.1" fill="#f04a3c"/>
<circle cx="112.9" cy="88.0" r="2.4" fill="#cf1a16"/>
<circle cx="117.9" cy="85.3" r="2.3" fill="#f04a3c"/>
<circle cx="119.9" cy="86.1" r="1.7" fill="#e2261e"/>
<circle cx="118.6" cy="99.1" r="1.6" fill="#dc2018"/>
<circle cx="108.0" cy="89.7" r="1.6" fill="#e2261e"/>
<circle cx="114.1" cy="96.9" r="1.8" fill="#ea3228"/>
<circle cx="93.8" cy="89.7" r="2.1" fill="#ea3228"/>
<circle cx="118.6" cy="99.4" r="2.0" fill="#e83c30"/>
<circle cx="116.4" cy="96.4" r="1.5" fill="#e83c30"/>
<circle cx="87.7" cy="93.4" r="1.5" fill="#cf1a16"/>
<circle cx="92.2" cy="101.2" r="1.6" fill="#dc2018"/>
<circle cx="94.9" cy="92.7" r="2.0" fill="#ea3228"/>
<circle cx="113.0" cy="103.6" r="1.5" fill="#e83c30"/>
<circle cx="115.4" cy="103.3" r="2.0" fill="#dc2018"/>
<circle cx="103.6" cy="95.6" r="1.6" fill="#dc2018"/>
<circle cx="92.2" cy="98.0" r="1.9" fill="#e2261e"/>
<circle cx="119.7" cy="99.3" r="1.9" fill="#f04a3c"/>
<circle cx="105.3" cy="86.1" r="1.8" fill="#e2261e"/>
<circle cx="99.2" cy="91.9" r="2.3" fill="#e2261e"/>
<circle cx="100.0" cy="96.9" r="1.8" fill="#ea3228"/>
<circle cx="39.0" cy="3.8" r="2.3" fill="#d81c14"/>
<circle cx="45.2" cy="1.3" r="2.0" fill="#f04a3c"/>
<circle cx="42.5" cy="6.5" r="1.8" fill="#ea3228"/>
<circle cx="39.3" cy="8.7" r="1.9" fill="#cf1a16"/>
<circle cx="42.4" cy="1.7" r="1.9" fill="#dc2018"/>
<circle cx="35.6" cy="2.3" r="1.8" fill="#f04a3c"/>
<circle cx="44.4" cy="2.4" r="1.7" fill="#ea3228"/>
<circle cx="42.6" cy="8.3" r="2.1" fill="#f04a3c"/>
<circle cx="19.0" cy="25.7" r="1.3" fill="#f49a9a"/>
<circle cx="42.5" cy="24.6" r="1.8" fill="#f9c4c4"/>
<circle cx="119.0" cy="75.8" r="1.1" fill="#f49a9a"/>
<circle cx="12.4" cy="40.0" r="1.8" fill="#f9c4c4"/>
<circle cx="89.5" cy="45.2" r="1.2" fill="#f49a9a"/>
<circle cx="111.2" cy="29.2" r="1.7" fill="#f9c4c4"/>
<circle cx="4.1" cy="41.5" r="1.6" fill="#f49a9a"/>
<circle cx="27.1" cy="102.0" r="1.2" fill="#f7b8b8"/>
<circle cx="17.3" cy="62.8" r="1.3" fill="#f49a9a"/>
<circle cx="29.6" cy="88.7" r="1.6" fill="#f49a9a"/>
<circle cx="91.4" cy="43.8" r="1.2" fill="#f49a9a"/>
<circle cx="79.6" cy="91.3" r="1.5" fill="#f49a9a"/>
<circle cx="104.0" cy="70.7" r="1.5" fill="#f9c4c4"/>
<circle cx="52.8" cy="27.0" r="1.6" fill="#f9c4c4"/>
<circle cx="29.6" cy="41.6" r="1.6" fill="#f7b8b8"/>
<circle cx="30.5" cy="44.1" r="1.4" fill="#f49a9a"/>
<circle cx="104.7" cy="53.9" r="1.5" fill="#f7b8b8"/>
<circle cx="109.1" cy="34.1" r="1.0" fill="#f9c4c4"/>
<circle cx="110.8" cy="11.1" r="1.2" fill="#f7b8b8"/>
<circle cx="19.6" cy="81.3" r="1.8" fill="#f49a9a"/>
<circle cx="42.5" cy="88.1" r="1.4" fill="#f7b8b8"/>
<circle cx="87.5" cy="53.3" r="1.5" fill="#f9c4c4"/>
</g>
<ellipse cx="62.0" cy="66.0" rx="8" ry="12" fill="#e2241c" filter="url(#b1)" opacity="0.85" transform="rotate(-28 62 66)"/>
<ellipse cx="96.0" cy="67.0" rx="8.5" ry="14.5" fill="#e6201a" filter="url(#b1)" opacity="0.95" transform="rotate(5 96 67)"/>
<ellipse cx="13.0" cy="62.0" rx="8" ry="26" fill="#e2241c" filter="url(#b2)" opacity="0.8" transform="rotate(-4 13 62)"/>
<polygon points="45.0,37.0 48.0,36.0 60.0,49.0 72.0,69.0 74.0,80.0 70.0,72.0 58.0,53.0" fill="#fbe2e0" filter="url(#b05)" opacity="0.75"/>
<polygon points="83.5,76.0 84.0,58.0 90.0,50.0 97.0,47.0 91.0,52.5 86.5,60.0 85.5,76.0" fill="#fbdcda" filter="url(#b05)" opacity="0.7"/>
<ellipse cx="103.0" cy="86.0" rx="6" ry="1.3" fill="#fce2e0" filter="url(#b05)" transform="rotate(-25 103 86)"/>
<ellipse cx="49.0" cy="74.0" rx="1.3" ry="9" fill="#f9cfd0" filter="url(#b05)" transform="rotate(-28 49 74)"/>
<ellipse cx="7.0" cy="28.0" rx="2.6" ry="3" fill="#7a1c3c" filter="url(#b05)"/>
<ellipse cx="4.0" cy="10.0" rx="2.5" ry="2.5" fill="#8a2040" filter="url(#b05)"/>
<ellipse cx="25.0" cy="86.0" rx="2" ry="2.5" fill="#7a2050" filter="url(#b05)"/>
<ellipse cx="18.0" cy="30.0" rx="2" ry="2.4" fill="#8a2448" filter="url(#b05)"/>
<ellipse cx="44.0" cy="28.0" rx="1.6" ry="2" fill="#8a3058" filter="url(#b05)"/>
<ellipse cx="105.0" cy="60.0" rx="1.6" ry="2" fill="#8a3058" filter="url(#b05)"/>
<ellipse cx="34.0" cy="52.0" rx="1.5" ry="2" fill="#8a3058" filter="url(#b05)"/>
<ellipse cx="68.0" cy="32.0" rx="1.6" ry="1.6" fill="#903860" filter="url(#b05)"/>
</g></g>
<rect x="212.49999999999997" y="365.2" width="44.4" height="43.19999999999999" fill="#5c5c5c"/>
<g clip-path="url(#c2i)">
<polygon points="218.2,382.2 221.5,372.6 228.3,369.2 234.0,372.6 240.8,376.4 247.5,375.0 248.5,380.3 252.3,386.0 251.3,393.7 248.5,403.3 243.7,400.5 239.8,404.3 238.8,397.6 232.1,395.7 223.5,396.6 219.6,390.8" fill="#cdb3a3" filter="url(#b1)"/>
<ellipse cx="238.0" cy="388.0" rx="14.5" ry="9" fill="#c07c58" filter="url(#b2)" transform="rotate(40 238 388)"/>
<ellipse cx="238.5" cy="389.0" rx="12" ry="5.2" fill="#b4552c" filter="url(#b1)" transform="rotate(42 238.5 389)"/>
<ellipse cx="232.0" cy="382.0" rx="5" ry="3.2" fill="#9c4226" filter="url(#b1)" transform="rotate(30 232 382)"/>
<ellipse cx="246.0" cy="396.0" rx="4.5" ry="6" fill="#b86a44" filter="url(#b1)" opacity="0.8" transform="rotate(10 246 396)"/>
<ellipse cx="223.5" cy="380.0" rx="3.2" ry="6.5" fill="#e8dfd8" filter="url(#b1)" opacity="0.85" transform="rotate(20 223.5 380)"/>
<ellipse cx="240.3" cy="401.0" rx="1.5" ry="3.2" fill="#f2ece8" filter="url(#b1)" transform="rotate(10 240.3 401)"/>
</g>
<path d="M212.49999999999997,364.2 V408.4 H257.9" fill="none" stroke="#000" stroke-width="2.0"/>
<rect x="137.1" y="365.2" width="119.79999999999998" height="103.0" fill="none" stroke="#000" stroke-width="2.0"/>
<text x="252.30" y="462.70" font-size="12.4" text-anchor="end" font-weight="normal" fill="#1a0a10">H&amp;E</text>
<text x="198.50" y="482.40" font-size="12.75" text-anchor="middle" font-weight="normal" >GM-CSF</text>
<clipPath id="c3"><rect x="263.3" y="365.2" width="119.80000000000001" height="103.0"/></clipPath>
<clipPath id="c3i"><rect x="338.70000000000005" y="365.2" width="44.4" height="43.19999999999999"/></clipPath>
<rect x="262.8" y="364.7" width="120.80000000000001" height="104.0" fill="#f57c96"/>
<g clip-path="url(#c3)"><g transform="translate(262.3,364.2)">
<ellipse cx="60.0" cy="40.0" rx="50" ry="30" fill="#f47896" filter="url(#b3)" opacity="0.6"/>
<ellipse cx="47.0" cy="22.0" rx="17" ry="13" fill="#f25a58" filter="url(#b2)"/>
<ellipse cx="62.0" cy="53.0" rx="16.5" ry="14" fill="#fcd6d2" filter="url(#b2)" opacity="0.8"/>
<ellipse cx="62.0" cy="51.0" rx="11" ry="9" fill="#e0302a" filter="url(#b1)"/>
<ellipse cx="22.0" cy="70.0" rx="18" ry="16" fill="#f06264" filter="url(#b2)"/>
<ellipse cx="6.0" cy="6.0" rx="8" ry="8" fill="#ea3c3c" filter="url(#b2)"/>
<ellipse cx="9.0" cy="45.0" rx="8" ry="9" fill="#f05c6c" filter="url(#b2)"/>
<ellipse cx="30.0" cy="12.0" rx="8" ry="5" fill="#f06c78" filter="url(#b2)" transform="rotate(20 30 12)"/>
<polygon points="46.0,100.0 62.0,85.0 80.0,75.0 100.0,67.0 125.0,58.0 125.0,107.0 40.0,107.0" fill="#d874a8" filter="url(#b2)"/>
<polygon points="88.0,86.0 104.0,74.0 125.0,66.0 125.0,107.0 82.0,107.0" fill="#cc7cb4" filter="url(#b2)" opacity="0.7"/>
<ellipse cx="68.0" cy="7.0" rx="11" ry="4.5" fill="#c078b4" filter="url(#b2)" transform="rotate(15 68 7)"/>
<polygon points="-3.0,90.0 30.0,88.0 62.0,90.0 62.0,107.0 -3.0,107.0" fill="#e272a2" filter="url(#b2)" opacity="0.8"/>
<ellipse cx="10.0" cy="99.0" rx="11" ry="6" fill="#cc74b0" filter="url(#b2)"/>
<ellipse cx="52.0" cy="95.0" rx="9" ry="5" fill="#d478b0" filter="url(#b2)"/>
<g filter="url(#b08)">
<circle cx="45.6" cy="23.3" r="2.7" fill="#f46460"/>
<circle cx="45.6" cy="29.6" r="1.8" fill="#f88080"/>
<circle cx="46.3" cy="24.4" r="1.8" fill="#f46460"/>
<circle cx="41.1" cy="13.2" r="2.6" fill="#e83a36"/>
<circle cx="49.9" cy="19.8" r="2.1" fill="#f88080"/>
<circle cx="51.5" cy="24.6" r="2.6" fill="#e83a36"/>
<circle cx="45.9" cy="20.7" r="2.6" fill="#f88080"/>
<circle cx="39.0" cy="17.6" r="1.6" fill="#e83a36"/>
<circle cx="45.7" cy="17.2" r="2.8" fill="#e83a36"/>
<circle cx="53.2" cy="18.0" r="1.9" fill="#e02c28"/>
<circle cx="32.9" cy="23.4" r="1.7" fill="#e83a36"/>
<circle cx="57.4" cy="19.6" r="2.7" fill="#e83a36"/>
<circle cx="33.6" cy="19.3" r="2.5" fill="#f46460"/>
<circle cx="34.2" cy="24.8" r="2.5" fill="#e02c28"/>
<circle cx="42.1" cy="18.0" r="1.6" fill="#f46460"/>
<circle cx="54.7" cy="13.8" r="1.9" fill="#e83a36"/>
<circle cx="32.3" cy="21.2" r="2.2" fill="#f88080"/>
<circle cx="37.7" cy="22.2" r="2.8" fill="#f04c48"/>
<circle cx="44.6" cy="19.5" r="2.1" fill="#f04c48"/>
<circle cx="61.2" cy="24.0" r="2.8" fill="#e83a36"/>
<circle cx="38.3" cy="19.7" r="2.6" fill="#f88080"/>
<circle cx="38.4" cy="16.8" r="2.5" fill="#e02c28"/>
<circle cx="56.9" cy="19.6" r="1.7" fill="#f04c48"/>
<circle cx="49.5" cy="16.5" r="2.3" fill="#e02c28"/>
<circle cx="50.7" cy="14.0" r="2.3" fill="#f88080"/>
<circle cx="36.1" cy="19.6" r="2.4" fill="#e02c28"/>
<circle cx="39.5" cy="15.3" r="2.5" fill="#f88080"/>
<circle cx="58.5" cy="24.2" r="2.1" fill="#e83a36"/>
<circle cx="35.3" cy="22.3" r="1.9" fill="#f46460"/>
<circle cx="39.7" cy="28.9" r="2.3" fill="#e02c28"/>
<circle cx="47.6" cy="31.2" r="2.8" fill="#f04c48"/>
<circle cx="38.9" cy="23.3" r="2.6" fill="#f88080"/>
<circle cx="59.4" cy="27.3" r="1.7" fill="#f46460"/>
<circle cx="45.4" cy="12.6" r="1.8" fill="#e02c28"/>
<circle cx="62.6" cy="58.4" r="1.9" fill="#e63028"/>
<circle cx="65.1" cy="54.0" r="2.5" fill="#e63028"/>
<circle cx="63.8" cy="57.6" r="2.4" fill="#d41c18"/>
<circle cx="61.6" cy="54.6" r="2.2" fill="#dc241e"/>
<circle cx="53.5" cy="51.7" r="2.7" fill="#e63028"/>
<circle cx="59.0" cy="53.9" r="2.9" fill="#ec4038"/>
<circle cx="62.0" cy="43.4" r="2.6" fill="#ec4038"/>
<circle cx="63.7" cy="52.7" r="1.9" fill="#dc241e"/>
<circle cx="66.6" cy="49.3" r="2.7" fill="#ec4038"/>
<circle cx="60.8" cy="56.3" r="1.9" fill="#dc241e"/>
<circle cx="58.2" cy="44.6" r="1.8" fill="#dc241e"/>
<circle cx="61.9" cy="52.8" r="2.9" fill="#d41c18"/>
<circle cx="69.9" cy="48.9" r="2.0" fill="#e63028"/>
<circle cx="62.4" cy="55.0" r="2.2" fill="#ec4038"/>
<circle cx="62.0" cy="47.0" r="2.3" fill="#d41c18"/>
<circle cx="56.0" cy="49.9" r="2.8" fill="#e63028"/>
<circle cx="69.6" cy="49.2" r="2.5" fill="#d41c18"/>
<circle cx="56.2" cy="45.3" r="2.2" fill="#dc241e"/>
<circle cx="66.2" cy="58.0" r="2.1" fill="#e63028"/>
<circle cx="54.3" cy="50.6" r="2.9" fill="#ec4038"/>
<circle cx="59.7" cy="51.3" r="2.6" fill="#ec4038"/>
<circle cx="58.4" cy="56.1" r="2.1" fill="#dc241e"/>
<circle cx="27.7" cy="65.0" r="2.1" fill="#fff0f0"/>
<circle cx="10.3" cy="69.8" r="1.6" fill="#e02c28"/>
<circle cx="13.6" cy="61.2" r="1.7" fill="#fff0f0"/>
<circle cx="23.1" cy="74.8" r="2.1" fill="#e83a36"/>
<circle cx="27.9" cy="62.8" r="2.3" fill="#f04c48"/>
<circle cx="28.9" cy="78.0" r="2.3" fill="#e83a36"/>
<circle cx="11.7" cy="64.8" r="2.1" fill="#fff0f0"/>
<circle cx="36.3" cy="71.0" r="3.0" fill="#f04c48"/>
<circle cx="18.6" cy="79.0" r="2.9" fill="#e83a36"/>
<circle cx="19.1" cy="81.7" r="2.1" fill="#f46460"/>
<circle cx="20.5" cy="74.4" r="2.9" fill="#f46460"/>
<circle cx="23.6" cy="75.2" r="2.3" fill="#e02c28"/>
<circle cx="20.8" cy="75.1" r="1.9" fill="#fff0f0"/>
<circle cx="33.7" cy="79.1" r="2.9" fill="#e83a36"/>
<circle cx="12.8" cy="81.9" r="3.0" fill="#e02c28"/>
<circle cx="23.2" cy="78.9" r="2.0" fill="#fff0f0"/>
<circle cx="33.4" cy="66.9" r="1.7" fill="#f46460"/>
<circle cx="16.9" cy="68.9" r="2.0" fill="#e83a36"/>
<circle cx="13.0" cy="81.0" r="2.2" fill="#e83a36"/>
<circle cx="11.5" cy="66.5" r="2.7" fill="#f04c48"/>
<circle cx="21.1" cy="84.6" r="2.9" fill="#fbd8d8"/>
<circle cx="32.9" cy="76.2" r="2.9" fill="#f46460"/>
<circle cx="24.5" cy="76.2" r="2.7" fill="#f46460"/>
<circle cx="22.9" cy="65.3" r="2.6" fill="#fff0f0"/>
<circle cx="11.3" cy="71.4" r="2.9" fill="#e02c28"/>
<circle cx="16.0" cy="67.8" r="2.8" fill="#fbd8d8"/>
<circle cx="12.7" cy="80.6" r="3.0" fill="#fbd8d8"/>
<circle cx="14.7" cy="70.9" r="2.2" fill="#e83a36"/>
<circle cx="22.1" cy="73.9" r="1.6" fill="#e83a36"/>
<circle cx="22.5" cy="68.3" r="2.7" fill="#fbd8d8"/>
<circle cx="20.7" cy="82.5" r="2.7" fill="#f46460"/>
<circle cx="14.6" cy="70.3" r="1.8" fill="#f46460"/>
<circle cx="35.4" cy="71.7" r="1.8" fill="#f46460"/>
<circle cx="25.8" cy="82.6" r="1.8" fill="#e83a36"/>
<circle cx="29.2" cy="64.0" r="2.3" fill="#f46460"/>
<circle cx="29.4" cy="60.7" r="2.3" fill="#e02c28"/>
<circle cx="29.0" cy="76.5" r="2.8" fill="#e83a36"/>
<circle cx="18.0" cy="68.6" r="2.3" fill="#f04c48"/>
<circle cx="23.2" cy="80.9" r="2.3" fill="#f04c48"/>
<circle cx="22.9" cy="80.6" r="2.5" fill="#f04c48"/>
<circle cx="13.4" cy="77.6" r="2.7" fill="#f04c48"/>
<circle cx="16.1" cy="65.9" r="2.9" fill="#f04c48"/>
<circle cx="30.9" cy="62.7" r="1.7" fill="#f04c48"/>
<circle cx="18.4" cy="69.2" r="2.9" fill="#fbd8d8"/>
<circle cx="10.1" cy="0.9" r="2.1" fill="#f04c48"/>
<circle cx="10.2" cy="0.5" r="2.3" fill="#e02c28"/>
<circle cx="0.6" cy="6.1" r="2.5" fill="#f04c48"/>
<circle cx="10.2" cy="5.8" r="1.6" fill="#f04c48"/>
<circle cx="7.6" cy="11.5" r="2.2" fill="#e83a36"/>
<circle cx="1.6" cy="2.0" r="2.6" fill="#e02c28"/>
<circle cx="5.5" cy="9.6" r="2.0" fill="#e02c28"/>
<circle cx="5.0" cy="4.0" r="1.9" fill="#e02c28"/>
<circle cx="10.8" cy="1.6" r="2.1" fill="#f04c48"/>
<circle cx="4.2" cy="11.8" r="2.3" fill="#e83a36"/>
<circle cx="9.2" cy="37.4" r="2.4" fill="#f46460"/>
<circle cx="15.2" cy="46.1" r="1.7" fill="#f46460"/>
<circle cx="5.6" cy="51.4" r="2.2" fill="#e83a36"/>
<circle cx="13.4" cy="43.5" r="2.4" fill="#f46460"/>
<circle cx="11.7" cy="49.2" r="2.3" fill="#f04c48"/>
<circle cx="4.9" cy="40.1" r="2.3" fill="#f04c48"/>
<circle cx="8.6" cy="37.4" r="1.9" fill="#f46460"/>
<circle cx="6.2" cy="40.6" r="1.9" fill="#e83a36"/>
<circle cx="9.5" cy="43.3" r="2.5" fill="#f46460"/>
<circle cx="5.0" cy="39.1" r="1.9" fill="#f46460"/>
<circle cx="12.3" cy="41.2" r="1.9" fill="#e83a36"/>
<circle cx="12.7" cy="47.3" r="1.5" fill="#f04c48"/>
<ellipse cx="61.3" cy="102.4" rx="2.4" ry="1.3" fill="#b874b4" transform="rotate(-17 61.3 102.4)"/>
<ellipse cx="122.2" cy="85.8" rx="3.0" ry="1.6" fill="#a864ac" transform="rotate(-61 122.2 85.8)"/>
<ellipse cx="86.7" cy="90.8" rx="2.9" ry="1.6" fill="#a864ac" transform="rotate(-50 86.7 90.8)"/>
<ellipse cx="72.8" cy="105.5" rx="2.8" ry="1.5" fill="#b874b4" transform="rotate(8 72.8 105.5)"/>
<ellipse cx="90.7" cy="79.0" rx="2.3" ry="1.3" fill="#7c3c90" transform="rotate(-3 90.7 79.0)"/>
<ellipse cx="85.1" cy="81.7" rx="2.0" ry="1.1" fill="#7c3c90" transform="rotate(-33 85.1 81.7)"/>
<ellipse cx="89.8" cy="89.0" rx="2.2" ry="1.2" fill="#a864ac" transform="rotate(-64 89.8 89.0)"/>
<ellipse cx="116.3" cy="94.7" rx="1.7" ry="0.9" fill="#7c3c90" transform="rotate(-61 116.3 94.7)"/>
<ellipse cx="107.8" cy="69.0" rx="2.6" ry="1.4" fill="#7c3c90" transform="rotate(-39 107.8 69.0)"/>
<ellipse cx="108.9" cy="102.6" rx="1.8" ry="1.0" fill="#9854a4" transform="rotate(7 108.9 102.6)"/>
<ellipse cx="113.2" cy="75.5" rx="1.8" ry="1.0" fill="#7c3c90" transform="rotate(-14 113.2 75.5)"/>
<ellipse cx="91.1" cy="89.3" rx="2.6" ry="1.4" fill="#7c3c90" transform="rotate(-3 91.1 89.3)"/>
<ellipse cx="109.3" cy="64.7" rx="2.0" ry="1.1" fill="#9854a4" transform="rotate(-40 109.3 64.7)"/>
<ellipse cx="80.9" cy="82.6" rx="2.0" ry="1.1" fill="#b874b4" transform="rotate(9 80.9 82.6)"/>
<ellipse cx="112.0" cy="71.5" rx="2.5" ry="1.3" fill="#b874b4" transform="rotate(5 112.0 71.5)"/>
<ellipse cx="60.4" cy="104.6" rx="2.3" ry="1.3" fill="#9854a4" transform="rotate(-65 60.4 104.6)"/>
<ellipse cx="63.7" cy="95.0" rx="2.9" ry="1.6" fill="#9854a4" transform="rotate(0 63.7 95.0)"/>
<ellipse cx="60.0" cy="106.1" rx="2.3" ry="1.3" fill="#7c3c90" transform="rotate(-44 60.0 106.1)"/>
<ellipse cx="68.8" cy="82.2" rx="1.8" ry="1.0" fill="#8a489c" transform="rotate(-55 68.8 82.2)"/>
<ellipse cx="78.0" cy="98.3" rx="2.8" ry="1.5" fill="#9854a4" transform="rotate(-14 78.0 98.3)"/>
<ellipse cx="108.8" cy="76.1" rx="2.5" ry="1.4" fill="#b874b4" transform="rotate(-29 108.8 76.1)"/>
<ellipse cx="64.7" cy="95.2" rx="2.8" ry="1.5" fill="#9854a4" transform="rotate(-16 64.7 95.2)"/>
<ellipse cx="95.6" cy="86.4" rx="2.2" ry="1.2" fill="#7c3c90" transform="rotate(-60 95.6 86.4)"/>
<ellipse cx="86.2" cy="79.2" rx="2.4" ry="1.3" fill="#a864ac" transform="rotate(-32 86.2 79.2)"/>
<ellipse cx="66.4" cy="102.6" rx="2.4" ry="1.3" fill="#7c3c90" transform="rotate(-7 66.4 102.6)"/>
<ellipse cx="101.6" cy="92.0" rx="2.0" ry="1.1" fill="#9854a4" transform="rotate(-42 101.6 92.0)"/>
<ellipse cx="70.4" cy="93.6" rx="2.1" ry="1.2" fill="#8a489c" transform="rotate(-29 70.4 93.6)"/>
<ellipse cx="100.3" cy="85.9" rx="2.9" ry="1.6" fill="#7c3c90" transform="rotate(-14 100.3 85.9)"/>
<ellipse cx="85.1" cy="106.6" rx="2.2" ry="1.2" fill="#9854a4" transform="rotate(-19 85.1 106.6)"/>
<ellipse cx="122.3" cy="93.8" rx="2.3" ry="1.3" fill="#8a489c" transform="rotate(-24 122.3 93.8)"/>
<ellipse cx="97.5" cy="86.7" rx="2.7" ry="1.5" fill="#b874b4" transform="rotate(-23 97.5 86.7)"/>
<ellipse cx="107.8" cy="84.5" rx="2.8" ry="1.5" fill="#b874b4" transform="rotate(-48 107.8 84.5)"/>
<ellipse cx="55.0" cy="95.2" rx="2.8" ry="1.6" fill="#7c3c90" transform="rotate(-68 55.0 95.2)"/>
<ellipse cx="75.9" cy="86.5" rx="2.0" ry="1.1" fill="#b874b4" transform="rotate(-60 75.9 86.5)"/>
<ellipse cx="48.3" cy="98.0" rx="2.2" ry="1.2" fill="#9854a4" transform="rotate(-8 48.3 98.0)"/>
<ellipse cx="105.1" cy="83.6" rx="2.7" ry="1.5" fill="#a864ac" transform="rotate(-26 105.1 83.6)"/>
<ellipse cx="68.7" cy="105.4" rx="2.5" ry="1.4" fill="#a864ac" transform="rotate(-8 68.7 105.4)"/>
<ellipse cx="85.7" cy="93.3" rx="2.6" ry="1.4" fill="#8a489c" transform="rotate(-18 85.7 93.3)"/>
<ellipse cx="104.3" cy="106.3" rx="2.1" ry="1.1" fill="#8a489c" transform="rotate(-22 104.3 106.3)"/>
<ellipse cx="110.9" cy="101.5" rx="2.9" ry="1.6" fill="#8a489c" transform="rotate(-3 110.9 101.5)"/>
<ellipse cx="49.3" cy="103.3" rx="2.9" ry="1.6" fill="#9854a4" transform="rotate(-50 49.3 103.3)"/>
<ellipse cx="124.2" cy="76.4" rx="1.8" ry="1.0" fill="#9854a4" transform="rotate(-21 124.2 76.4)"/>
<ellipse cx="122.4" cy="60.9" rx="2.0" ry="1.1" fill="#8a489c" transform="rotate(-32 122.4 60.9)"/>
<ellipse cx="95.1" cy="96.0" rx="1.9" ry="1.0" fill="#8a489c" transform="rotate(-12 95.1 96.0)"/>
<ellipse cx="108.0" cy="73.3" rx="1.9" ry="1.0" fill="#7c3c90" transform="rotate(-43 108.0 73.3)"/>
<ellipse cx="90.0" cy="87.4" rx="2.3" ry="1.2" fill="#b874b4" transform="rotate(-42 90.0 87.4)"/>
<ellipse cx="77.6" cy="101.8" rx="2.2" ry="1.2" fill="#7c3c90" transform="rotate(10 77.6 101.8)"/>
<ellipse cx="86.6" cy="98.0" rx="2.3" ry="1.2" fill="#7c3c90" transform="rotate(-8 86.6 98.0)"/>
<ellipse cx="115.4" cy="102.8" rx="2.1" ry="1.1" fill="#b874b4" transform="rotate(-59 115.4 102.8)"/>
<ellipse cx="44.2" cy="104.4" rx="2.7" ry="1.5" fill="#a864ac" transform="rotate(-3 44.2 104.4)"/>
<ellipse cx="107.6" cy="95.9" rx="2.7" ry="1.5" fill="#8a489c" transform="rotate(-40 107.6 95.9)"/>
<ellipse cx="115.8" cy="100.8" rx="2.9" ry="1.6" fill="#a864ac" transform="rotate(-39 115.8 100.8)"/>
<ellipse cx="100.6" cy="87.7" rx="1.8" ry="1.0" fill="#9854a4" transform="rotate(-29 100.6 87.7)"/>
<ellipse cx="52.3" cy="102.5" rx="2.7" ry="1.5" fill="#9854a4" transform="rotate(9 52.3 102.5)"/>
<ellipse cx="52.8" cy="95.7" rx="1.6" ry="0.9" fill="#9854a4" transform="rotate(-54 52.8 95.7)"/>
<ellipse cx="80.8" cy="81.0" rx="2.9" ry="1.6" fill="#b874b4" transform="rotate(-1 80.8 81.0)"/>
<ellipse cx="112.9" cy="72.9" rx="2.7" ry="1.5" fill="#a864ac" transform="rotate(-46 112.9 72.9)"/>
<ellipse cx="117.9" cy="62.5" rx="2.8" ry="1.5" fill="#9854a4" transform="rotate(-66 117.9 62.5)"/>
<ellipse cx="86.2" cy="83.8" rx="1.8" ry="1.0" fill="#7c3c90" transform="rotate(-30 86.2 83.8)"/>
<ellipse cx="100.8" cy="75.6" rx="2.6" ry="1.4" fill="#8a489c" transform="rotate(-20 100.8 75.6)"/>
<ellipse cx="97.4" cy="94.6" rx="3.0" ry="1.5" fill="#fbeef4" transform="rotate(-14 97.4 94.6)"/>
<ellipse cx="100.4" cy="69.6" rx="2.6" ry="1.3" fill="#f6dcea" transform="rotate(-69 100.4 69.6)"/>
<ellipse cx="112.8" cy="99.4" rx="2.9" ry="1.4" fill="#ffffff" transform="rotate(-51 112.8 99.4)"/>
<ellipse cx="96.7" cy="70.6" rx="2.0" ry="1.0" fill="#ffffff" transform="rotate(-56 96.7 70.6)"/>
<ellipse cx="68.0" cy="104.3" rx="2.6" ry="1.3" fill="#ffffff" transform="rotate(-28 68.0 104.3)"/>
<ellipse cx="78.0" cy="76.7" rx="1.8" ry="0.9" fill="#ffffff" transform="rotate(-58 78.0 76.7)"/>
<ellipse cx="42.8" cy="106.4" rx="2.4" ry="1.2" fill="#fbeef4" transform="rotate(-27 42.8 106.4)"/>
<ellipse cx="118.3" cy="78.9" rx="2.5" ry="1.3" fill="#ffffff" transform="rotate(-44 118.3 78.9)"/>
<ellipse cx="105.2" cy="98.2" rx="2.3" ry="1.1" fill="#f6dcea" transform="rotate(-18 105.2 98.2)"/>
<ellipse cx="93.0" cy="93.6" rx="2.7" ry="1.4" fill="#f6dcea" transform="rotate(-39 93.0 93.6)"/>
<ellipse cx="96.1" cy="87.8" rx="1.6" ry="0.8" fill="#f6dcea" transform="rotate(-46 96.1 87.8)"/>
<ellipse cx="69.1" cy="89.9" rx="1.8" ry="0.9" fill="#f6dcea" transform="rotate(-44 69.1 89.9)"/>
<ellipse cx="83.3" cy="96.6" rx="3.1" ry="1.5" fill="#ffffff" transform="rotate(-50 83.3 96.6)"/>
<ellipse cx="92.0" cy="83.2" rx="2.6" ry="1.3" fill="#fbeef4" transform="rotate(-4 92.0 83.2)"/>
<ellipse cx="124.9" cy="92.6" rx="3.3" ry="1.6" fill="#ffffff" transform="rotate(-67 124.9 92.6)"/>
<ellipse cx="89.0" cy="92.2" rx="2.2" ry="1.1" fill="#f6dcea" transform="rotate(-36 89.0 92.2)"/>
<ellipse cx="122.8" cy="64.6" rx="3.2" ry="1.6" fill="#ffffff" transform="rotate(-1 122.8 64.6)"/>
<ellipse cx="87.7" cy="85.5" rx="2.1" ry="1.0" fill="#ffffff" transform="rotate(-28 87.7 85.5)"/>
<ellipse cx="73.4" cy="12.8" rx="2.2" ry="1.3" fill="#a864ac" transform="rotate(-24 73.4 12.8)"/>
<ellipse cx="29.4" cy="59.7" rx="2.2" ry="1.3" fill="#9854a4" transform="rotate(6 29.4 59.7)"/>
<ellipse cx="66.8" cy="7.9" rx="1.3" ry="0.8" fill="#9854a4" transform="rotate(-53 66.8 7.9)"/>
<ellipse cx="37.5" cy="69.8" rx="2.1" ry="1.3" fill="#b06cb0" transform="rotate(8 37.5 69.8)"/>
<ellipse cx="72.2" cy="83.6" rx="1.3" ry="0.8" fill="#9854a4" transform="rotate(-18 72.2 83.6)"/>
<ellipse cx="57.1" cy="14.9" rx="1.7" ry="1.0" fill="#b06cb0" transform="rotate(-48 57.1 14.9)"/>
<ellipse cx="41.0" cy="13.7" rx="1.6" ry="0.9" fill="#a864ac" transform="rotate(-64 41.0 13.7)"/>
<ellipse cx="117.0" cy="62.4" rx="1.8" ry="1.1" fill="#b06cb0" transform="rotate(9 117.0 62.4)"/>
<ellipse cx="111.4" cy="58.7" rx="1.7" ry="1.0" fill="#a864ac" transform="rotate(-8 111.4 58.7)"/>
<ellipse cx="108.5" cy="48.2" rx="2.3" ry="1.4" fill="#b06cb0" transform="rotate(-15 108.5 48.2)"/>
<ellipse cx="14.3" cy="11.9" rx="2.3" ry="1.4" fill="#a864ac" transform="rotate(-3 14.3 11.9)"/>
<ellipse cx="63.5" cy="43.7" rx="1.3" ry="0.8" fill="#8a489c" transform="rotate(-33 63.5 43.7)"/>
<ellipse cx="89.3" cy="62.1" rx="2.1" ry="1.3" fill="#a864ac" transform="rotate(5 89.3 62.1)"/>
<ellipse cx="58.0" cy="11.0" rx="2.3" ry="1.4" fill="#a864ac" transform="rotate(-20 58.0 11.0)"/>
<ellipse cx="66.6" cy="58.7" rx="1.5" ry="0.9" fill="#b06cb0" transform="rotate(2 66.6 58.7)"/>
<ellipse cx="15.0" cy="7.5" rx="1.9" ry="1.1" fill="#9854a4" transform="rotate(-55 15.0 7.5)"/>
<ellipse cx="107.6" cy="59.9" rx="1.8" ry="1.1" fill="#a864ac" transform="rotate(-39 107.6 59.9)"/>
<ellipse cx="21.0" cy="45.8" rx="1.8" ry="1.1" fill="#b06cb0" transform="rotate(-52 21.0 45.8)"/>
<ellipse cx="43.5" cy="60.9" rx="1.4" ry="0.8" fill="#8a489c" transform="rotate(-12 43.5 60.9)"/>
<ellipse cx="60.8" cy="97.1" rx="2.4" ry="1.4" fill="#b06cb0" transform="rotate(-44 60.8 97.1)"/>
<ellipse cx="24.7" cy="89.3" rx="2.1" ry="1.2" fill="#8a489c" transform="rotate(-45 24.7 89.3)"/>
<ellipse cx="38.5" cy="89.4" rx="2.3" ry="1.4" fill="#8a489c" transform="rotate(-48 38.5 89.4)"/>
<ellipse cx="77.5" cy="72.6" rx="1.9" ry="1.1" fill="#9854a4" transform="rotate(-46 77.5 72.6)"/>
<ellipse cx="33.4" cy="43.7" rx="2.3" ry="1.4" fill="#a864ac" transform="rotate(-14 33.4 43.7)"/>
<ellipse cx="50.7" cy="17.6" rx="2.2" ry="1.3" fill="#8a489c" transform="rotate(-45 50.7 17.6)"/>
<ellipse cx="32.8" cy="74.9" rx="1.9" ry="1.1" fill="#a864ac" transform="rotate(-36 32.8 74.9)"/>
<ellipse cx="65.5" cy="8.3" rx="2.3" ry="1.4" fill="#9860b0" transform="rotate(-4 65.5 8.3)"/>
<ellipse cx="62.6" cy="5.4" rx="2.3" ry="1.4" fill="#9860b0" transform="rotate(-42 62.6 5.4)"/>
<ellipse cx="63.5" cy="8.1" rx="1.6" ry="0.9" fill="#8a50a8" transform="rotate(-14 63.5 8.1)"/>
<ellipse cx="69.7" cy="7.3" rx="1.9" ry="1.1" fill="#9860b0" transform="rotate(-59 69.7 7.3)"/>
<ellipse cx="61.8" cy="4.5" rx="2.2" ry="1.3" fill="#8a50a8" transform="rotate(-47 61.8 4.5)"/>
<ellipse cx="73.8" cy="4.3" rx="2.3" ry="1.4" fill="#9860b0" transform="rotate(-11 73.8 4.3)"/>
<ellipse cx="76.3" cy="7.7" rx="1.5" ry="0.9" fill="#7c44a0" transform="rotate(-63 76.3 7.7)"/>
<ellipse cx="61.6" cy="7.4" rx="2.1" ry="1.2" fill="#7c44a0" transform="rotate(-29 61.6 7.4)"/>
<ellipse cx="13.2" cy="101.8" rx="2.0" ry="1.2" fill="#9860b0" transform="rotate(-4 13.2 101.8)"/>
<ellipse cx="14.9" cy="99.3" rx="2.0" ry="1.2" fill="#8a50a8" transform="rotate(-56 14.9 99.3)"/>
<ellipse cx="12.2" cy="96.4" rx="1.9" ry="1.1" fill="#7c44a0" transform="rotate(-40 12.2 96.4)"/>
<ellipse cx="5.2" cy="99.4" rx="2.3" ry="1.4" fill="#9860b0" transform="rotate(-7 5.2 99.4)"/>
<ellipse cx="5.2" cy="96.1" rx="2.4" ry="1.4" fill="#8a50a8" transform="rotate(3 5.2 96.1)"/>
<ellipse cx="9.0" cy="102.7" rx="1.8" ry="1.1" fill="#9860b0" transform="rotate(-68 9.0 102.7)"/>
<ellipse cx="12.2" cy="102.0" rx="2.0" ry="1.2" fill="#9860b0" transform="rotate(-37 12.2 102.0)"/>
<ellipse cx="12.8" cy="99.8" rx="2.1" ry="1.3" fill="#9860b0" transform="rotate(-52 12.8 99.8)"/>
<ellipse cx="44.9" cy="94.4" rx="2.1" ry="1.3" fill="#9860b0" transform="rotate(-3 44.9 94.4)"/>
<ellipse cx="56.5" cy="97.1" rx="1.9" ry="1.2" fill="#9860b0" transform="rotate(-5 56.5 97.1)"/>
<ellipse cx="46.7" cy="93.1" rx="1.6" ry="1.0" fill="#9860b0" transform="rotate(6 46.7 93.1)"/>
<ellipse cx="50.6" cy="93.9" rx="1.7" ry="1.0" fill="#8a50a8" transform="rotate(-54 50.6 93.9)"/>
<ellipse cx="51.8" cy="97.0" rx="2.4" ry="1.4" fill="#8a50a8" transform="rotate(-12 51.8 97.0)"/>
<ellipse cx="52.3" cy="98.8" rx="1.5" ry="0.9" fill="#7c44a0" transform="rotate(-3 52.3 98.8)"/>
</g>
<ellipse cx="51.0" cy="24.0" rx="13" ry="8.5" fill="#ee4036" filter="url(#b2)" opacity="0.7"/>
<ellipse cx="11.0" cy="14.0" rx="3.2" ry="12" fill="#fbeeee" filter="url(#b08)" transform="rotate(40 11 14)"/>
<ellipse cx="14.0" cy="28.0" rx="4" ry="4.5" fill="#b060a4" filter="url(#b08)"/>
<ellipse cx="79.5" cy="78.5" rx="10" ry="3.2" fill="#fbeef2" filter="url(#b08)" transform="rotate(-12 79.5 78.5)"/>
<ellipse cx="107.0" cy="60.5" rx="8.5" ry="2.6" fill="#fbeef2" filter="url(#b08)" transform="rotate(127 107 60.5)"/>
<ellipse cx="112.0" cy="82.0" rx="4" ry="2.2" fill="#f6e0ec" filter="url(#b08)" transform="rotate(-20 112 82)"/>
<ellipse cx="4.0" cy="30.0" rx="3.5" ry="5" fill="#9c5ca8" filter="url(#b05)"/>
<ellipse cx="50.0" cy="44.0" rx="3" ry="2" fill="#8c4c9c" filter="url(#b05)"/>
<ellipse cx="47.0" cy="60.0" rx="2.5" ry="2" fill="#9c58a4" filter="url(#b05)"/>
<ellipse cx="36.0" cy="36.0" rx="2.5" ry="1.8" fill="#a060a8" filter="url(#b05)"/>
<ellipse cx="80.0" cy="46.0" rx="2.2" ry="1.6" fill="#b070b0" filter="url(#b05)"/>
<ellipse cx="28.0" cy="49.0" rx="2" ry="2" fill="#fff4f4" filter="url(#b05)"/>
<circle cx="28" cy="49" r="2" fill="none" stroke="#c05070" stroke-width="0.6"/>
</g></g>
<rect x="338.70000000000005" y="365.2" width="44.4" height="43.19999999999999" fill="#666666"/>
<g clip-path="url(#c3i)">
<ellipse cx="361.5" cy="386.0" rx="19.2" ry="14.6" fill="#d6b07a" filter="url(#b1)" transform="rotate(-15 361.5 386)"/>
<ellipse cx="348.5" cy="386.0" rx="5" ry="9" fill="#da9a52" filter="url(#b1)" opacity="0.8" transform="rotate(10 348.5 386)"/>
<ellipse cx="362.0" cy="397.5" rx="12" ry="3.2" fill="#ead9ac" filter="url(#b1)" opacity="0.9" transform="rotate(-8 362 397.5)"/>
<ellipse cx="364.2" cy="384.8" rx="14.6" ry="10.8" fill="#66583f" filter="url(#b1)" transform="rotate(-15 364.2 384.8)"/>
<ellipse cx="366.0" cy="384.5" rx="8" ry="6" fill="#5a5650" filter="url(#b2)" opacity="0.9"/>
</g>
<path d="M338.70000000000005,364.2 V408.4 H384.1" fill="none" stroke="#000" stroke-width="2.0"/>
<rect x="263.3" y="365.2" width="119.80000000000001" height="103.0" fill="none" stroke="#000" stroke-width="2.0"/>
<text x="378.50" y="462.70" font-size="12.4" text-anchor="end" font-weight="normal" fill="#1a0a10">H&amp;E</text>
<text x="323.60" y="482.40" font-size="12.75" text-anchor="middle" font-weight="normal" >MALP-2</text>
<clipPath id="c4"><rect x="388.6" y="365.2" width="119.79999999999995" height="103.0"/></clipPath>
<clipPath id="c4i"><rect x="464.0" y="365.2" width="44.4" height="43.19999999999999"/></clipPath>
<rect x="388.1" y="364.7" width="120.79999999999995" height="104.0" fill="#f67e97"/>
<g clip-path="url(#c4)"><g transform="translate(387.6,364.2)">
<ellipse cx="60.0" cy="30.0" rx="60" ry="30" fill="#f27692" filter="url(#b3)" opacity="0.5"/>
<ellipse cx="6.5" cy="62.0" rx="7.5" ry="10.5" fill="#e4202c" filter="url(#b1)"/>
<ellipse cx="6.0" cy="60.0" rx="3" ry="5" fill="#f06a70" filter="url(#b05)" opacity="0.7" transform="rotate(20 6 60)"/>
<ellipse cx="27.0" cy="36.5" rx="6.5" ry="5.2" fill="#b85c9c" filter="url(#b05)" transform="rotate(-10 27 36.5)"/>
<ellipse cx="27.0" cy="36.5" rx="3.4" ry="2.4" fill="#fbdfe8" filter="url(#b05)" transform="rotate(-10 27 36.5)"/>
<ellipse cx="41.5" cy="69.5" rx="4.4" ry="8.5" fill="#b05498" filter="url(#b05)" transform="rotate(8 41.5 69.5)"/>
<ellipse cx="41.5" cy="69.5" rx="1.8" ry="5" fill="#fbdfe8" filter="url(#b05)" transform="rotate(8 41.5 69.5)"/>
<ellipse cx="47.5" cy="13.5" rx="2.2" ry="4.5" fill="#a84c90" filter="url(#b05)" transform="rotate(-15 47.5 13.5)"/>
<ellipse cx="50.0" cy="29.0" rx="1.5" ry="3" fill="#b85c9c" filter="url(#b05)" transform="rotate(10 50 29)"/>
<ellipse cx="76.0" cy="72.0" rx="1.2" ry="3" fill="#b85c9c" filter="url(#b05)" transform="rotate(20 76 72)"/>
<ellipse cx="118.5" cy="74.0" rx="2.5" ry="7" fill="#d890b8" filter="url(#b05)"/>
<ellipse cx="118.0" cy="62.0" rx="1.5" ry="3" fill="#c070a8" filter="url(#b05)"/>
<ellipse cx="57.0" cy="58.0" rx="2" ry="1" fill="#c060a0" filter="url(#b05)"/>
<ellipse cx="30.0" cy="53.0" rx="3" ry="1.2" fill="#c868a4" filter="url(#b05)" transform="rotate(30 30 53)"/>
<ellipse cx="5.0" cy="3.0" rx="4" ry="2" fill="#c060a0" filter="url(#b05)"/>
<g opacity="0.75">
<ellipse cx="75.5" cy="76.2" rx="1.0" ry="1.6" fill="#b84c8c"/>
<ellipse cx="8.1" cy="17.7" rx="0.7" ry="0.8" fill="#c85c98"/>
<ellipse cx="14.0" cy="26.9" rx="0.9" ry="0.9" fill="#d06c9c"/>
<ellipse cx="110.1" cy="78.6" rx="0.6" ry="0.5" fill="#b84c8c"/>
<ellipse cx="2.2" cy="89.1" rx="0.6" ry="1.1" fill="#c85c98"/>
<ellipse cx="21.6" cy="18.6" rx="0.7" ry="0.9" fill="#c85c98"/>
<ellipse cx="113.0" cy="71.1" rx="1.1" ry="1.0" fill="#d06c9c"/>
<ellipse cx="44.6" cy="18.6" rx="0.6" ry="0.6" fill="#b84c8c"/>
<ellipse cx="98.5" cy="60.6" rx="0.9" ry="0.6" fill="#a84088"/>
<ellipse cx="43.9" cy="32.6" rx="0.9" ry="1.1" fill="#c85c98"/>
<ellipse cx="90.5" cy="86.5" rx="0.5" ry="0.5" fill="#d06c9c"/>
<ellipse cx="70.3" cy="2.9" rx="0.5" ry="0.7" fill="#c85c98"/>
<ellipse cx="31.0" cy="83.9" rx="0.8" ry="1.3" fill="#a84088"/>
<ellipse cx="31.6" cy="48.3" rx="0.9" ry="1.4" fill="#a84088"/>
<ellipse cx="6.3" cy="96.6" rx="0.6" ry="0.7" fill="#a84088"/>
<ellipse cx="44.8" cy="16.8" rx="0.7" ry="0.6" fill="#b84c8c"/>
<ellipse cx="39.4" cy="19.7" rx="0.5" ry="0.8" fill="#c85c98"/>
<ellipse cx="38.5" cy="50.4" rx="0.9" ry="1.7" fill="#b84c8c"/>
<ellipse cx="65.0" cy="42.6" rx="0.6" ry="1.0" fill="#a84088"/>
<ellipse cx="55.8" cy="44.2" rx="0.5" ry="0.8" fill="#b84c8c"/>
<ellipse cx="41.4" cy="22.7" rx="1.1" ry="1.5" fill="#c85c98"/>
<ellipse cx="53.3" cy="16.9" rx="1.0" ry="0.8" fill="#a84088"/>
<ellipse cx="110.8" cy="64.0" rx="0.6" ry="1.1" fill="#d06c9c"/>
<ellipse cx="34.3" cy="49.0" rx="1.0" ry="1.1" fill="#b84c8c"/>
<ellipse cx="118.6" cy="98.0" rx="0.9" ry="1.4" fill="#d06c9c"/>
<ellipse cx="23.3" cy="51.2" rx="0.8" ry="0.5" fill="#a84088"/>
<ellipse cx="71.3" cy="5.4" rx="0.7" ry="1.1" fill="#a84088"/>
<ellipse cx="33.3" cy="100.1" rx="0.9" ry="1.3" fill="#a84088"/>
<ellipse cx="70.5" cy="3.2" rx="0.8" ry="0.8" fill="#a84088"/>
<ellipse cx="34.3" cy="30.9" rx="0.8" ry="0.8" fill="#a84088"/>
<ellipse cx="78.0" cy="75.8" rx="1.0" ry="1.7" fill="#a84088"/>
<ellipse cx="22.4" cy="88.7" rx="0.8" ry="1.3" fill="#a84088"/>
<ellipse cx="63.1" cy="54.9" rx="0.6" ry="1.0" fill="#a84088"/>
<ellipse cx="58.3" cy="71.1" rx="0.9" ry="0.8" fill="#d06c9c"/>
<ellipse cx="94.1" cy="60.1" rx="0.9" ry="0.9" fill="#d06c9c"/>
<ellipse cx="67.3" cy="88.7" rx="0.7" ry="0.6" fill="#b84c8c"/>
<ellipse cx="71.2" cy="64.4" rx="0.6" ry="0.8" fill="#c85c98"/>
</g>
</g></g>
<rect x="464.0" y="365.2" width="44.4" height="43.19999999999999" fill="#5a5a5a"/>
<g clip-path="url(#c4i)">
<polygon points="467.3,383.6 472.6,377.4 475.5,373.5 480.3,376.4 487.0,374.0 494.7,375.0 506.2,378.8 504.3,382.7 498.5,387.0 493.7,390.8 485.1,397.6 478.3,402.4 471.6,404.3 470.2,400.5 471.6,393.7 468.7,388.9" fill="#c4c4bc" filter="url(#b1)"/>
<ellipse cx="486.0" cy="382.0" rx="12" ry="5.5" fill="#e8e6de" filter="url(#b1)" transform="rotate(8 486 382)"/>
<ellipse cx="476.0" cy="394.0" rx="4.5" ry="8" fill="#e6e2d8" filter="url(#b1)" transform="rotate(15 476 394)"/>
</g>
<path d="M464.0,364.2 V408.4 H509.4" fill="none" stroke="#000" stroke-width="2.0"/>
<rect x="388.6" y="365.2" width="119.79999999999995" height="103.0" fill="none" stroke="#000" stroke-width="2.0"/>
<text x="503.80" y="462.70" font-size="12.4" text-anchor="end" font-weight="normal" fill="#1a0a10">H&amp;E</text>
<text x="449.70" y="482.40" font-size="12.75" text-anchor="middle" font-weight="normal" >MALP-2+GM-CSF-AB</text>
<line x1="49.40" y1="514.02" x2="49.40" y2="627.77" stroke="#000" stroke-width="1.75"/>
<line x1="45.90" y1="626.90" x2="49.40" y2="626.90" stroke="#000" stroke-width="1.75"/>
<text x="43.10" y="631.36" font-size="12.1" text-anchor="end" font-weight="normal" >0</text>
<line x1="45.90" y1="610.90" x2="49.40" y2="610.90" stroke="#000" stroke-width="1.75"/>
<text x="43.10" y="615.36" font-size="12.1" text-anchor="end" font-weight="normal" >20</text>
<line x1="45.90" y1="594.90" x2="49.40" y2="594.90" stroke="#000" stroke-width="1.75"/>
<text x="43.10" y="599.36" font-size="12.1" text-anchor="end" font-weight="normal" >40</text>
<line x1="45.90" y1="578.90" x2="49.40" y2="578.90" stroke="#000" stroke-width="1.75"/>
<text x="43.10" y="583.36" font-size="12.1" text-anchor="end" font-weight="normal" >60</text>
<line x1="45.90" y1="562.90" x2="49.40" y2="562.90" stroke="#000" stroke-width="1.75"/>
<text x="43.10" y="567.36" font-size="12.1" text-anchor="end" font-weight="normal" >80</text>
<line x1="45.90" y1="546.90" x2="49.40" y2="546.90" stroke="#000" stroke-width="1.75"/>
<text x="43.10" y="551.36" font-size="12.1" text-anchor="end" font-weight="normal" >100</text>
<line x1="45.90" y1="530.90" x2="49.40" y2="530.90" stroke="#000" stroke-width="1.75"/>
<text x="43.10" y="535.36" font-size="12.1" text-anchor="end" font-weight="normal" >120</text>
<line x1="45.90" y1="514.90" x2="49.40" y2="514.90" stroke="#000" stroke-width="1.75"/>
<text x="43.10" y="519.36" font-size="12.1" text-anchor="end" font-weight="normal" >140</text>
<line x1="55.00" y1="627.10" x2="255.60" y2="627.10" stroke="#000" stroke-width="1.75"/>
<line x1="71.85" y1="607.20" x2="71.85" y2="610.70" stroke="#000" stroke-width="1.75"/>
<line x1="66.10" y1="607.20" x2="77.60" y2="607.20" stroke="#000" stroke-width="1.75"/>
<rect x="59.38" y="611.58" width="24.95" height="15.32" fill="#fff" stroke="#000" stroke-width="1.75"/>
<line x1="111.35" y1="562.00" x2="111.35" y2="571.30" stroke="#000" stroke-width="1.75"/>
<line x1="105.10" y1="562.00" x2="117.60" y2="562.00" stroke="#000" stroke-width="1.75"/>
<rect x="99.08" y="572.17" width="24.55" height="54.73" fill="#000" stroke="#000" stroke-width="1.75"/>
<line x1="152.90" y1="546.00" x2="152.90" y2="556.90" stroke="#000" stroke-width="1.75"/>
<line x1="147.15" y1="546.00" x2="158.65" y2="546.00" stroke="#000" stroke-width="1.75"/>
<rect x="140.47" y="557.77" width="24.85" height="69.12" fill="#9b9b9b" stroke="#000" stroke-width="1.75"/>
<line x1="196.05" y1="584.90" x2="196.05" y2="600.90" stroke="#000" stroke-width="1.75"/>
<line x1="190.30" y1="584.90" x2="201.80" y2="584.90" stroke="#000" stroke-width="1.75"/>
<rect x="183.57" y="601.77" width="24.95" height="25.12" fill="url(#hatch)" stroke="#000" stroke-width="1.75"/>
<line x1="235.65" y1="558.40" x2="235.65" y2="567.60" stroke="#000" stroke-width="1.75"/>
<line x1="229.90" y1="558.40" x2="241.40" y2="558.40" stroke="#000" stroke-width="1.75"/>
<rect x="223.28" y="568.48" width="24.75" height="58.42" fill="#565656" stroke="#000" stroke-width="1.75"/>
<text transform="translate(112.00,559.30) scale(1.03,0.86)" font-size="19" text-anchor="middle" class="st" letter-spacing="0.9">**</text>
<text transform="translate(153.90,543.30) scale(1.03,0.86)" font-size="19" text-anchor="middle" class="st" letter-spacing="0.9">**</text>
<text x="196.40" y="578.90" font-size="12" text-anchor="middle" font-weight="normal"  class="st">##</text>
<text transform="translate(236.50,556.30) scale(1.03,0.86)" font-size="19" text-anchor="middle" class="st" letter-spacing="0.9">**</text>
<text transform="translate(17.30,571.70) rotate(-90)" font-size="12.8" text-anchor="middle" >hemoglobin content</text>
<text x="69.00" y="638.70" font-size="9.3" text-anchor="middle" font-weight="normal" class="sm">control</text>
<text x="110.30" y="638.70" font-size="9.3" text-anchor="middle" font-weight="normal" class="sm">GM-CSF</text>
<text x="153.20" y="638.70" font-size="9.3" text-anchor="middle" font-weight="normal" class="sm">MALP-2</text>
<text x="195.60" y="638.70" font-size="9.3" text-anchor="middle" font-weight="normal" class="sm">MALP-2</text>
<text x="238.50" y="638.70" font-size="9.3" text-anchor="middle" font-weight="normal" class="sm">MALP-2</text>
<text x="194.60" y="647.50" font-size="7.1" text-anchor="middle" font-weight="normal" class="sm">+GM-CSF-AB</text>
<text x="238.00" y="647.50" font-size="7.1" text-anchor="middle" font-weight="normal" class="sm">+IgG</text>
<line x1="303.00" y1="514.58" x2="303.00" y2="627.58" stroke="#000" stroke-width="1.75"/>
<line x1="299.00" y1="626.70" x2="303.00" y2="626.70" stroke="#000" stroke-width="1.75"/>
<text x="295.90" y="632.16" font-size="12.4" text-anchor="end" font-weight="normal" >0</text>
<line x1="299.00" y1="604.45" x2="303.00" y2="604.45" stroke="#000" stroke-width="1.75"/>
<text x="295.90" y="609.91" font-size="12.4" text-anchor="end" font-weight="normal" >5</text>
<line x1="299.00" y1="582.20" x2="303.00" y2="582.20" stroke="#000" stroke-width="1.75"/>
<text x="295.90" y="587.66" font-size="12.4" text-anchor="end" font-weight="normal" >10</text>
<line x1="299.00" y1="559.95" x2="303.00" y2="559.95" stroke="#000" stroke-width="1.75"/>
<text x="295.90" y="565.41" font-size="12.4" text-anchor="end" font-weight="normal" >15</text>
<line x1="299.00" y1="537.70" x2="303.00" y2="537.70" stroke="#000" stroke-width="1.75"/>
<text x="295.90" y="543.16" font-size="12.4" text-anchor="end" font-weight="normal" >20</text>
<line x1="299.00" y1="515.45" x2="303.00" y2="515.45" stroke="#000" stroke-width="1.75"/>
<text x="295.90" y="520.91" font-size="12.4" text-anchor="end" font-weight="normal" >25</text>
<line x1="307.50" y1="626.70" x2="506.00" y2="626.70" stroke="#000" stroke-width="1.75"/>
<line x1="325.05" y1="617.00" x2="325.05" y2="620.00" stroke="#000" stroke-width="1.75"/>
<line x1="319.80" y1="617.00" x2="330.30" y2="617.00" stroke="#000" stroke-width="1.75"/>
<rect x="312.18" y="620.88" width="25.75" height="5.83" fill="#fff" stroke="#000" stroke-width="1.75"/>
<line x1="365.25" y1="544.50" x2="365.25" y2="562.50" stroke="#000" stroke-width="1.75"/>
<line x1="358.75" y1="544.50" x2="371.75" y2="544.50" stroke="#000" stroke-width="1.75"/>
<rect x="352.18" y="563.38" width="26.15" height="63.33" fill="#000" stroke="#000" stroke-width="1.75"/>
<line x1="407.00" y1="533.70" x2="407.00" y2="553.90" stroke="#000" stroke-width="1.75"/>
<line x1="401.25" y1="533.70" x2="412.75" y2="533.70" stroke="#000" stroke-width="1.75"/>
<rect x="394.07" y="554.77" width="25.85" height="71.93" fill="#9b9b9b" stroke="#000" stroke-width="1.75"/>
<line x1="448.80" y1="610.80" x2="448.80" y2="613.00" stroke="#000" stroke-width="1.75"/>
<line x1="443.05" y1="610.80" x2="454.55" y2="610.80" stroke="#000" stroke-width="1.75"/>
<rect x="435.77" y="613.88" width="26.05" height="12.83" fill="url(#hatch)" stroke="#000" stroke-width="1.75"/>
<line x1="489.65" y1="551.00" x2="489.65" y2="560.60" stroke="#000" stroke-width="1.75"/>
<line x1="483.90" y1="551.00" x2="495.40" y2="551.00" stroke="#000" stroke-width="1.75"/>
<rect x="476.88" y="561.48" width="25.55" height="65.23" fill="#565656" stroke="#000" stroke-width="1.75"/>
<text transform="translate(365.00,541.30) scale(1.03,0.86)" font-size="19" text-anchor="middle" class="st" letter-spacing="0.9">**</text>
<text transform="translate(408.00,529.30) scale(1.03,0.86)" font-size="19" text-anchor="middle" class="st" letter-spacing="0.9">**</text>
<text x="449.00" y="606.30" font-size="12" text-anchor="middle" font-weight="normal"  class="st">##</text>
<text transform="translate(490.40,547.30) scale(1.03,0.86)" font-size="19" text-anchor="middle" class="st" letter-spacing="0.9">**</text>
<text transform="translate(276.80,572.70) rotate(-90)" font-size="12.6" text-anchor="middle" >% vascular area</text>
<text x="321.20" y="639.00" font-size="9.3" text-anchor="middle" font-weight="normal" class="sm">control</text>
<text x="362.20" y="640.00" font-size="9.3" text-anchor="middle" font-weight="normal" class="sm">GM-CSF</text>
<text x="406.20" y="639.00" font-size="9.3" text-anchor="middle" font-weight="normal" class="sm">MALP-2</text>
<text x="448.50" y="639.00" font-size="9.3" text-anchor="middle" font-weight="normal" class="sm">MALP-2</text>
<text x="492.20" y="639.00" font-size="9.3" text-anchor="middle" font-weight="normal" class="sm">MALP-2</text>
<text x="449.80" y="648.60" font-size="7.4" text-anchor="middle" font-weight="normal" class="sm">+GM-CSF-AB</text>
<text x="491.60" y="648.60" font-size="7.4" text-anchor="middle" font-weight="normal" class="sm">+IgG</text>
</svg></body></html>
